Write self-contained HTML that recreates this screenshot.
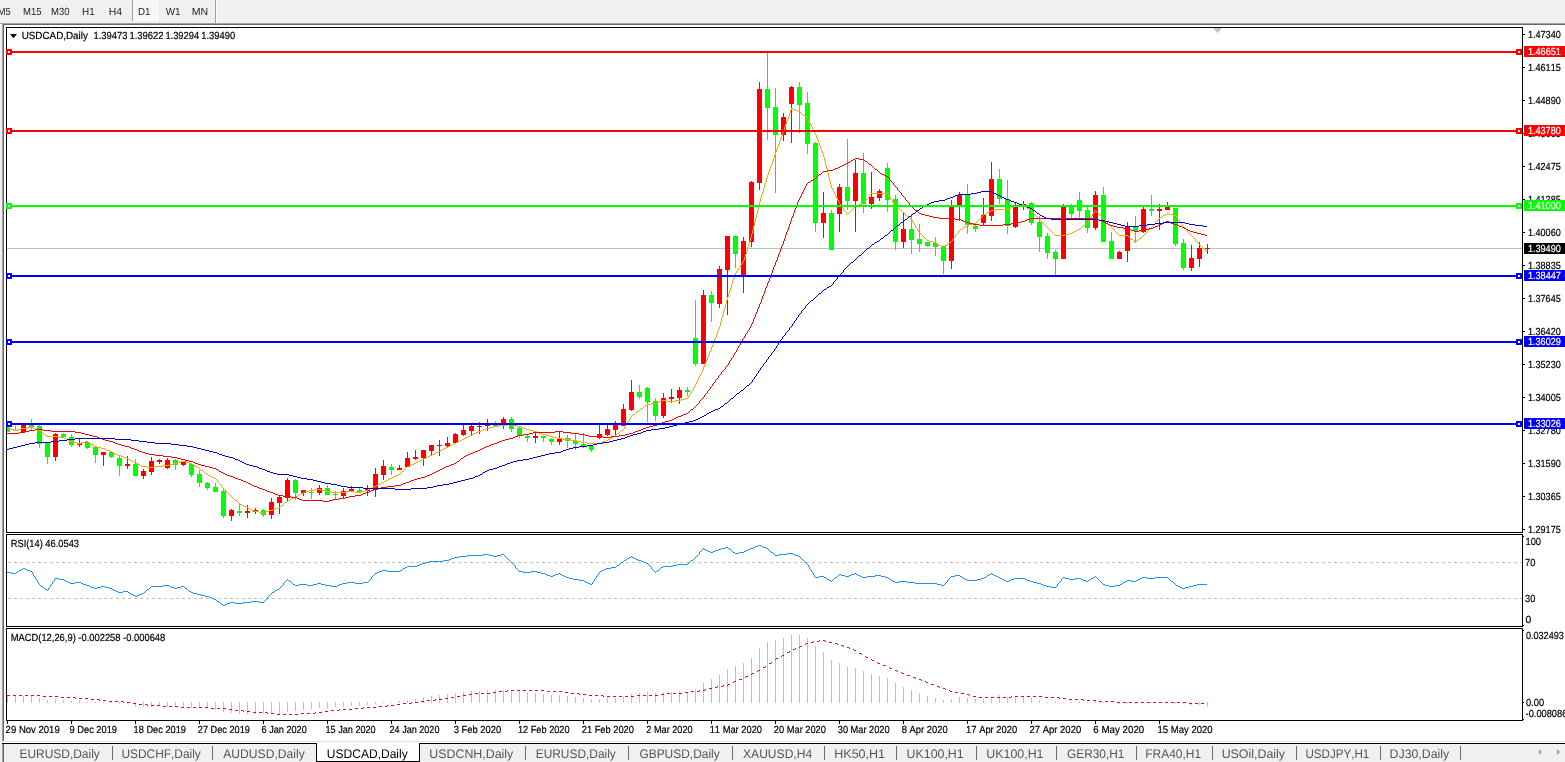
<!DOCTYPE html>
<html><head><meta charset="utf-8"><title>USDCAD,Daily</title>
<style>
html,body{margin:0;padding:0;background:#f0f0f0;overflow:hidden;width:1565px;height:762px}
svg{display:block;position:absolute;left:0;top:0}
text{font-family:'Liberation Sans', sans-serif;text-rendering:geometricPrecision}
</style></head><body>
<svg width="1565" height="762" viewBox="0 0 1565 762"><rect x="0" y="0" width="1565" height="762" fill="#f0f0f0"/>
<defs><pattern id="chk" width="2" height="2" patternUnits="userSpaceOnUse"><rect width="2" height="2" fill="#f0f0f0"/><rect width="1" height="1" fill="#fff"/><rect x="1" y="1" width="1" height="1" fill="#fff"/></pattern><clipPath id="cmain"><rect x="7" y="28" width="1515" height="504"/></clipPath><clipPath id="crsi"><rect x="7" y="535" width="1515" height="91"/></clipPath><clipPath id="cmacd"><rect x="7" y="629" width="1515" height="91"/></clipPath></defs>
<rect x="133" y="0" width="24" height="20" fill="url(#chk)"/>
<rect x="157" y="0" width="1" height="21" fill="#fff"/>
<rect x="133" y="20" width="25" height="1" fill="#fff"/>
<rect x="132" y="0" width="1" height="21" fill="#a0a0a0"/>
<rect x="215" y="0" width="1" height="23" fill="#a0a0a0"/>
<rect x="216" y="0" width="1" height="23" fill="#fff"/>
<g font-family="'Liberation Sans', sans-serif" style="font-kerning:none">
<text x="-2.37" y="15" font-size="10.3" textLength="12.96" lengthAdjust="spacingAndGlyphs" fill="#222" stroke="#222" stroke-width="0">M5</text>
<text x="23.02" y="15" font-size="10.3" textLength="18.58" lengthAdjust="spacingAndGlyphs" fill="#222" stroke="#222" stroke-width="0">M15</text>
<text x="51.12" y="15" font-size="10.3" textLength="18.45" lengthAdjust="spacingAndGlyphs" fill="#222" stroke="#222" stroke-width="0">M30</text>
<text x="81.99" y="15" font-size="10.3" textLength="12.7" lengthAdjust="spacingAndGlyphs" fill="#222" stroke="#222" stroke-width="0">H1</text>
<text x="108.84" y="15" font-size="10.3" textLength="13.36" lengthAdjust="spacingAndGlyphs" fill="#222" stroke="#222" stroke-width="0">H4</text>
<text x="138" y="15" font-size="10.3" textLength="12.48" lengthAdjust="spacingAndGlyphs" fill="#222" stroke="#222" stroke-width="0">D1</text>
<text x="165.66" y="15" font-size="10.3" textLength="14.83" lengthAdjust="spacingAndGlyphs" fill="#222" stroke="#222" stroke-width="0">W1</text>
<text x="191.73" y="15" font-size="10.3" textLength="16.43" lengthAdjust="spacingAndGlyphs" fill="#222" stroke="#222" stroke-width="0">MN</text>
</g>
<rect x="0" y="23" width="1565" height="1" fill="#a0a0a0"/>
<rect x="0" y="24" width="2" height="1" fill="#ffffff"/>
<rect x="3" y="24" width="1562" height="1" fill="#696969"/>
<rect x="2" y="23" width="1" height="718" fill="#a0a0a0"/>
<rect x="3" y="24" width="1" height="717" fill="#696969"/>
<rect x="4" y="25" width="1561" height="716" fill="#ffffff"/>
<rect x="2" y="741" width="1563" height="1" fill="#e3e3e3"/>
<rect x="2" y="742" width="1563" height="1" fill="#ffffff"/>
<rect x="6" y="27" width="1517" height="1" fill="#000"/>
<rect x="6" y="532" width="1517" height="1" fill="#000"/>
<rect x="6" y="27" width="1" height="506" fill="#000"/>
<rect x="1522" y="27" width="1" height="506" fill="#000"/>
<rect x="6" y="534" width="1517" height="1" fill="#000"/>
<rect x="6" y="626" width="1517" height="1" fill="#000"/>
<rect x="6" y="534" width="1" height="93" fill="#000"/>
<rect x="1522" y="534" width="1" height="93" fill="#000"/>
<rect x="6" y="628" width="1517" height="1" fill="#000"/>
<rect x="6" y="720" width="1517" height="1" fill="#000"/>
<rect x="6" y="628" width="1" height="93" fill="#000"/>
<rect x="1522" y="628" width="1" height="93" fill="#000"/>
<g clip-path="url(#cmain)">
<rect x="7" y="248" width="1515" height="1" fill="#c0c0c0"/>
<polygon points="1213,28 1222,28 1217.5,33" fill="#c0c0c0"/>
<rect x="7" y="428" width="1" height="4" fill="#00ff00"/>
<rect x="5" y="428" width="5" height="4" fill="#00ff00"/>
<rect x="15" y="426" width="1" height="5" fill="#00ff00"/>
<rect x="13" y="430" width="5" height="1" fill="#00ff00"/>
<rect x="23" y="423" width="1" height="9" fill="#ff0000"/>
<rect x="21" y="425" width="5" height="7" fill="#ff0000"/>
<rect x="31" y="419" width="1" height="11" fill="#00ff00"/>
<rect x="29" y="425" width="5" height="2" fill="#00ff00"/>
<rect x="39" y="425" width="1" height="23" fill="#00ff00"/>
<rect x="37" y="426" width="5" height="18" fill="#00ff00"/>
<rect x="47" y="443" width="1" height="21" fill="#00ff00"/>
<rect x="45" y="443" width="5" height="14" fill="#00ff00"/>
<rect x="55" y="433" width="1" height="28" fill="#ff0000"/>
<rect x="53" y="434" width="5" height="23" fill="#ff0000"/>
<rect x="63" y="433" width="1" height="5" fill="#00ff00"/>
<rect x="61" y="434" width="5" height="3" fill="#00ff00"/>
<rect x="71" y="434" width="1" height="13" fill="#00ff00"/>
<rect x="69" y="437" width="5" height="8" fill="#00ff00"/>
<rect x="79" y="439" width="1" height="8" fill="#ff0000"/>
<rect x="77" y="443" width="5" height="2" fill="#ff0000"/>
<rect x="87" y="442" width="1" height="7" fill="#00ff00"/>
<rect x="85" y="442" width="5" height="6" fill="#00ff00"/>
<rect x="95" y="447" width="1" height="16" fill="#00ff00"/>
<rect x="93" y="447" width="5" height="8" fill="#00ff00"/>
<rect x="103" y="452" width="1" height="14" fill="#ff0000"/>
<rect x="101" y="452" width="5" height="3" fill="#ff0000"/>
<rect x="111" y="452" width="1" height="6" fill="#00ff00"/>
<rect x="109" y="452" width="5" height="5" fill="#00ff00"/>
<rect x="119" y="456" width="1" height="20" fill="#00ff00"/>
<rect x="117" y="458" width="5" height="8" fill="#00ff00"/>
<rect x="127" y="456" width="1" height="13" fill="#ff0000"/>
<rect x="125" y="464" width="5" height="2" fill="#ff0000"/>
<rect x="135" y="459" width="1" height="17" fill="#00ff00"/>
<rect x="133" y="464" width="5" height="12" fill="#00ff00"/>
<rect x="143" y="469" width="1" height="10" fill="#ff0000"/>
<rect x="141" y="471" width="5" height="5" fill="#ff0000"/>
<rect x="151" y="457" width="1" height="18" fill="#ff0000"/>
<rect x="149" y="461" width="5" height="11" fill="#ff0000"/>
<rect x="159" y="459" width="1" height="5" fill="#ff0000"/>
<rect x="157" y="460" width="5" height="2" fill="#ff0000"/>
<rect x="167" y="458" width="1" height="11" fill="#ff0000"/>
<rect x="165" y="460" width="5" height="8" fill="#ff0000"/>
<rect x="175" y="459" width="1" height="11" fill="#00ff00"/>
<rect x="173" y="460" width="5" height="5" fill="#00ff00"/>
<rect x="183" y="461" width="1" height="5" fill="#ff0000"/>
<rect x="181" y="461" width="5" height="4" fill="#ff0000"/>
<rect x="191" y="463" width="1" height="14" fill="#00ff00"/>
<rect x="189" y="464" width="5" height="11" fill="#00ff00"/>
<rect x="199" y="470" width="1" height="17" fill="#00ff00"/>
<rect x="197" y="474" width="5" height="9" fill="#00ff00"/>
<rect x="207" y="482" width="1" height="8" fill="#00ff00"/>
<rect x="205" y="483" width="5" height="5" fill="#00ff00"/>
<rect x="215" y="483" width="1" height="9" fill="#00ff00"/>
<rect x="213" y="487" width="5" height="5" fill="#00ff00"/>
<rect x="223" y="488" width="1" height="30" fill="#00ff00"/>
<rect x="221" y="491" width="5" height="25" fill="#00ff00"/>
<rect x="231" y="509" width="1" height="12" fill="#ff0000"/>
<rect x="229" y="510" width="5" height="6" fill="#ff0000"/>
<rect x="239" y="504" width="1" height="12" fill="#00ff00"/>
<rect x="237" y="511" width="5" height="2" fill="#00ff00"/>
<rect x="247" y="505" width="1" height="13" fill="#ff0000"/>
<rect x="245" y="511" width="5" height="2" fill="#ff0000"/>
<rect x="255" y="508" width="1" height="6" fill="#ff0000"/>
<rect x="253" y="510" width="5" height="2" fill="#ff0000"/>
<rect x="263" y="509" width="1" height="8" fill="#00ff00"/>
<rect x="261" y="510" width="5" height="5" fill="#00ff00"/>
<rect x="271" y="498" width="1" height="21" fill="#ff0000"/>
<rect x="269" y="502" width="5" height="13" fill="#ff0000"/>
<rect x="279" y="496" width="1" height="18" fill="#ff0000"/>
<rect x="277" y="497" width="5" height="6" fill="#ff0000"/>
<rect x="287" y="478" width="1" height="23" fill="#ff0000"/>
<rect x="285" y="480" width="5" height="18" fill="#ff0000"/>
<rect x="295" y="479" width="1" height="21" fill="#00ff00"/>
<rect x="293" y="480" width="5" height="13" fill="#00ff00"/>
<rect x="303" y="490" width="1" height="6" fill="#ff0000"/>
<rect x="301" y="490" width="5" height="3" fill="#ff0000"/>
<rect x="311" y="488" width="1" height="11" fill="#00ff00"/>
<rect x="309" y="492" width="5" height="1" fill="#00ff00"/>
<rect x="319" y="485" width="1" height="10" fill="#ff0000"/>
<rect x="317" y="488" width="5" height="5" fill="#ff0000"/>
<rect x="327" y="485" width="1" height="10" fill="#00ff00"/>
<rect x="325" y="488" width="5" height="7" fill="#00ff00"/>
<rect x="335" y="491" width="1" height="8" fill="#00ff00"/>
<rect x="333" y="494" width="5" height="1" fill="#00ff00"/>
<rect x="343" y="488" width="1" height="10" fill="#ff0000"/>
<rect x="341" y="491" width="5" height="5" fill="#ff0000"/>
<rect x="351" y="486" width="1" height="5" fill="#ff0000"/>
<rect x="349" y="489" width="5" height="2" fill="#ff0000"/>
<rect x="359" y="488" width="1" height="4" fill="#00ff00"/>
<rect x="357" y="490" width="5" height="2" fill="#00ff00"/>
<rect x="367" y="485" width="1" height="11" fill="#ff0000"/>
<rect x="365" y="489" width="5" height="2" fill="#ff0000"/>
<rect x="375" y="468" width="1" height="29" fill="#ff0000"/>
<rect x="373" y="474" width="5" height="16" fill="#ff0000"/>
<rect x="383" y="460" width="1" height="20" fill="#ff0000"/>
<rect x="381" y="466" width="5" height="9" fill="#ff0000"/>
<rect x="391" y="464" width="1" height="11" fill="#00ff00"/>
<rect x="389" y="467" width="5" height="3" fill="#00ff00"/>
<rect x="399" y="465" width="1" height="5" fill="#ff0000"/>
<rect x="397" y="468" width="5" height="2" fill="#ff0000"/>
<rect x="407" y="452" width="1" height="15" fill="#ff0000"/>
<rect x="405" y="458" width="5" height="9" fill="#ff0000"/>
<rect x="415" y="450" width="1" height="10" fill="#ff0000"/>
<rect x="413" y="457" width="5" height="2" fill="#ff0000"/>
<rect x="423" y="450" width="1" height="16" fill="#ff0000"/>
<rect x="421" y="450" width="5" height="8" fill="#ff0000"/>
<rect x="431" y="445" width="1" height="10" fill="#ff0000"/>
<rect x="429" y="445" width="5" height="6" fill="#ff0000"/>
<rect x="439" y="440" width="1" height="16" fill="#ff0000"/>
<rect x="437" y="445" width="5" height="1" fill="#ff0000"/>
<rect x="447" y="437" width="1" height="11" fill="#ff0000"/>
<rect x="445" y="443" width="5" height="3" fill="#ff0000"/>
<rect x="455" y="433" width="1" height="11" fill="#ff0000"/>
<rect x="453" y="434" width="5" height="9" fill="#ff0000"/>
<rect x="463" y="424" width="1" height="12" fill="#ff0000"/>
<rect x="461" y="430" width="5" height="5" fill="#ff0000"/>
<rect x="471" y="424" width="1" height="12" fill="#ff0000"/>
<rect x="469" y="426" width="5" height="5" fill="#ff0000"/>
<rect x="479" y="422" width="1" height="12" fill="#ff0000"/>
<rect x="477" y="426" width="5" height="1" fill="#ff0000"/>
<rect x="487" y="419" width="1" height="12" fill="#ff0000"/>
<rect x="485" y="423" width="5" height="3" fill="#ff0000"/>
<rect x="495" y="421" width="1" height="5" fill="#00ff00"/>
<rect x="493" y="424" width="5" height="2" fill="#00ff00"/>
<rect x="503" y="417" width="1" height="12" fill="#ff0000"/>
<rect x="501" y="419" width="5" height="4" fill="#ff0000"/>
<rect x="511" y="417" width="1" height="15" fill="#00ff00"/>
<rect x="509" y="419" width="5" height="10" fill="#00ff00"/>
<rect x="519" y="426" width="1" height="12" fill="#00ff00"/>
<rect x="517" y="428" width="5" height="8" fill="#00ff00"/>
<rect x="527" y="434" width="1" height="8" fill="#00ff00"/>
<rect x="525" y="436" width="5" height="2" fill="#00ff00"/>
<rect x="535" y="432" width="1" height="11" fill="#ff0000"/>
<rect x="533" y="436" width="5" height="2" fill="#ff0000"/>
<rect x="543" y="436" width="1" height="6" fill="#00ff00"/>
<rect x="541" y="436" width="5" height="2" fill="#00ff00"/>
<rect x="551" y="438" width="1" height="7" fill="#00ff00"/>
<rect x="549" y="439" width="5" height="3" fill="#00ff00"/>
<rect x="559" y="431" width="1" height="14" fill="#ff0000"/>
<rect x="557" y="438" width="5" height="4" fill="#ff0000"/>
<rect x="567" y="435" width="1" height="13" fill="#00ff00"/>
<rect x="565" y="438" width="5" height="3" fill="#00ff00"/>
<rect x="575" y="434" width="1" height="16" fill="#00ff00"/>
<rect x="573" y="441" width="5" height="3" fill="#00ff00"/>
<rect x="583" y="433" width="1" height="15" fill="#00ff00"/>
<rect x="581" y="444" width="5" height="2" fill="#00ff00"/>
<rect x="591" y="445" width="1" height="7" fill="#00ff00"/>
<rect x="589" y="446" width="5" height="4" fill="#00ff00"/>
<rect x="599" y="425" width="1" height="14" fill="#ff0000"/>
<rect x="597" y="434" width="5" height="4" fill="#ff0000"/>
<rect x="607" y="425" width="1" height="11" fill="#ff0000"/>
<rect x="605" y="429" width="5" height="6" fill="#ff0000"/>
<rect x="615" y="421" width="1" height="14" fill="#ff0000"/>
<rect x="613" y="423" width="5" height="7" fill="#ff0000"/>
<rect x="623" y="404" width="1" height="22" fill="#ff0000"/>
<rect x="621" y="409" width="5" height="17" fill="#ff0000"/>
<rect x="631" y="380" width="1" height="31" fill="#ff0000"/>
<rect x="629" y="392" width="5" height="18" fill="#ff0000"/>
<rect x="639" y="385" width="1" height="14" fill="#00ff00"/>
<rect x="637" y="392" width="5" height="5" fill="#00ff00"/>
<rect x="647" y="387" width="1" height="35" fill="#00ff00"/>
<rect x="645" y="388" width="5" height="14" fill="#00ff00"/>
<rect x="655" y="398" width="1" height="23" fill="#00ff00"/>
<rect x="653" y="401" width="5" height="15" fill="#00ff00"/>
<rect x="663" y="393" width="1" height="25" fill="#ff0000"/>
<rect x="661" y="398" width="5" height="18" fill="#ff0000"/>
<rect x="671" y="389" width="1" height="14" fill="#ff0000"/>
<rect x="669" y="397" width="5" height="2" fill="#ff0000"/>
<rect x="679" y="387" width="1" height="17" fill="#ff0000"/>
<rect x="677" y="390" width="5" height="8" fill="#ff0000"/>
<rect x="687" y="387" width="1" height="9" fill="#00ff00"/>
<rect x="685" y="390" width="5" height="2" fill="#00ff00"/>
<rect x="695" y="300" width="1" height="66" fill="#00ff00"/>
<rect x="693" y="338" width="5" height="26" fill="#00ff00"/>
<rect x="703" y="290" width="1" height="74" fill="#ff0000"/>
<rect x="701" y="295" width="5" height="69" fill="#ff0000"/>
<rect x="711" y="291" width="1" height="31" fill="#00ff00"/>
<rect x="709" y="295" width="5" height="8" fill="#00ff00"/>
<rect x="719" y="266" width="1" height="42" fill="#ff0000"/>
<rect x="717" y="269" width="5" height="35" fill="#ff0000"/>
<rect x="727" y="236" width="1" height="79" fill="#ff0000"/>
<rect x="725" y="236" width="5" height="34" fill="#ff0000"/>
<rect x="735" y="235" width="1" height="33" fill="#00ff00"/>
<rect x="733" y="236" width="5" height="18" fill="#00ff00"/>
<rect x="743" y="237" width="1" height="56" fill="#ff0000"/>
<rect x="741" y="241" width="5" height="34" fill="#ff0000"/>
<rect x="751" y="181" width="1" height="66" fill="#ff0000"/>
<rect x="749" y="182" width="5" height="60" fill="#ff0000"/>
<rect x="759" y="82" width="1" height="108" fill="#ff0000"/>
<rect x="757" y="89" width="5" height="94" fill="#ff0000"/>
<rect x="767" y="53" width="1" height="87" fill="#00ff00"/>
<rect x="765" y="89" width="5" height="19" fill="#00ff00"/>
<rect x="775" y="88" width="1" height="105" fill="#00ff00"/>
<rect x="773" y="107" width="5" height="28" fill="#00ff00"/>
<rect x="783" y="113" width="1" height="28" fill="#ff0000"/>
<rect x="781" y="117" width="5" height="18" fill="#ff0000"/>
<rect x="791" y="86" width="1" height="57" fill="#ff0000"/>
<rect x="789" y="87" width="5" height="17" fill="#ff0000"/>
<rect x="799" y="82" width="1" height="51" fill="#00ff00"/>
<rect x="797" y="87" width="5" height="18" fill="#00ff00"/>
<rect x="807" y="92" width="1" height="62" fill="#00ff00"/>
<rect x="805" y="103" width="5" height="41" fill="#00ff00"/>
<rect x="815" y="142" width="1" height="90" fill="#00ff00"/>
<rect x="813" y="143" width="5" height="80" fill="#00ff00"/>
<rect x="823" y="192" width="1" height="46" fill="#ff0000"/>
<rect x="821" y="213" width="5" height="10" fill="#ff0000"/>
<rect x="831" y="210" width="1" height="40" fill="#00ff00"/>
<rect x="829" y="213" width="5" height="37" fill="#00ff00"/>
<rect x="839" y="184" width="1" height="48" fill="#ff0000"/>
<rect x="837" y="187" width="5" height="27" fill="#ff0000"/>
<rect x="847" y="139" width="1" height="71" fill="#00ff00"/>
<rect x="845" y="187" width="5" height="14" fill="#00ff00"/>
<rect x="855" y="160" width="1" height="72" fill="#ff0000"/>
<rect x="853" y="173" width="5" height="28" fill="#ff0000"/>
<rect x="863" y="153" width="1" height="60" fill="#00ff00"/>
<rect x="861" y="173" width="5" height="31" fill="#00ff00"/>
<rect x="871" y="172" width="1" height="37" fill="#ff0000"/>
<rect x="869" y="197" width="5" height="7" fill="#ff0000"/>
<rect x="879" y="189" width="1" height="12" fill="#ff0000"/>
<rect x="877" y="191" width="5" height="7" fill="#ff0000"/>
<rect x="887" y="163" width="1" height="49" fill="#00ff00"/>
<rect x="885" y="168" width="5" height="32" fill="#00ff00"/>
<rect x="895" y="195" width="1" height="55" fill="#00ff00"/>
<rect x="893" y="199" width="5" height="43" fill="#00ff00"/>
<rect x="903" y="213" width="1" height="35" fill="#ff0000"/>
<rect x="901" y="229" width="5" height="13" fill="#ff0000"/>
<rect x="911" y="214" width="1" height="40" fill="#00ff00"/>
<rect x="909" y="229" width="5" height="11" fill="#00ff00"/>
<rect x="919" y="224" width="1" height="28" fill="#00ff00"/>
<rect x="917" y="239" width="5" height="5" fill="#00ff00"/>
<rect x="927" y="242" width="1" height="5" fill="#00ff00"/>
<rect x="925" y="242" width="5" height="4" fill="#00ff00"/>
<rect x="935" y="237" width="1" height="19" fill="#00ff00"/>
<rect x="933" y="243" width="5" height="4" fill="#00ff00"/>
<rect x="943" y="246" width="1" height="28" fill="#00ff00"/>
<rect x="941" y="246" width="5" height="15" fill="#00ff00"/>
<rect x="951" y="200" width="1" height="69" fill="#ff0000"/>
<rect x="949" y="207" width="5" height="54" fill="#ff0000"/>
<rect x="959" y="192" width="1" height="29" fill="#ff0000"/>
<rect x="957" y="195" width="5" height="10" fill="#ff0000"/>
<rect x="967" y="184" width="1" height="50" fill="#00ff00"/>
<rect x="965" y="195" width="5" height="30" fill="#00ff00"/>
<rect x="975" y="223" width="1" height="9" fill="#00ff00"/>
<rect x="973" y="226" width="5" height="3" fill="#00ff00"/>
<rect x="983" y="198" width="1" height="28" fill="#ff0000"/>
<rect x="981" y="215" width="5" height="8" fill="#ff0000"/>
<rect x="991" y="162" width="1" height="59" fill="#ff0000"/>
<rect x="989" y="179" width="5" height="37" fill="#ff0000"/>
<rect x="999" y="169" width="1" height="35" fill="#00ff00"/>
<rect x="997" y="179" width="5" height="20" fill="#00ff00"/>
<rect x="1007" y="180" width="1" height="54" fill="#00ff00"/>
<rect x="1005" y="199" width="5" height="27" fill="#00ff00"/>
<rect x="1015" y="203" width="1" height="25" fill="#ff0000"/>
<rect x="1013" y="207" width="5" height="20" fill="#ff0000"/>
<rect x="1023" y="201" width="1" height="9" fill="#ff0000"/>
<rect x="1021" y="204" width="5" height="3" fill="#ff0000"/>
<rect x="1031" y="202" width="1" height="23" fill="#00ff00"/>
<rect x="1029" y="203" width="5" height="20" fill="#00ff00"/>
<rect x="1039" y="216" width="1" height="36" fill="#00ff00"/>
<rect x="1037" y="222" width="5" height="15" fill="#00ff00"/>
<rect x="1047" y="233" width="1" height="26" fill="#00ff00"/>
<rect x="1045" y="236" width="5" height="17" fill="#00ff00"/>
<rect x="1055" y="250" width="1" height="25" fill="#00ff00"/>
<rect x="1053" y="252" width="5" height="7" fill="#00ff00"/>
<rect x="1063" y="204" width="1" height="55" fill="#ff0000"/>
<rect x="1061" y="207" width="5" height="52" fill="#ff0000"/>
<rect x="1071" y="204" width="1" height="14" fill="#00ff00"/>
<rect x="1069" y="206" width="5" height="8" fill="#00ff00"/>
<rect x="1079" y="192" width="1" height="28" fill="#00ff00"/>
<rect x="1077" y="200" width="5" height="11" fill="#00ff00"/>
<rect x="1087" y="207" width="1" height="26" fill="#00ff00"/>
<rect x="1085" y="210" width="5" height="18" fill="#00ff00"/>
<rect x="1095" y="191" width="1" height="39" fill="#ff0000"/>
<rect x="1093" y="195" width="5" height="33" fill="#ff0000"/>
<rect x="1103" y="187" width="1" height="55" fill="#00ff00"/>
<rect x="1101" y="195" width="5" height="47" fill="#00ff00"/>
<rect x="1111" y="232" width="1" height="27" fill="#00ff00"/>
<rect x="1109" y="241" width="5" height="18" fill="#00ff00"/>
<rect x="1119" y="251" width="1" height="8" fill="#ff0000"/>
<rect x="1117" y="252" width="5" height="7" fill="#ff0000"/>
<rect x="1127" y="222" width="1" height="40" fill="#ff0000"/>
<rect x="1125" y="226" width="5" height="25" fill="#ff0000"/>
<rect x="1135" y="216" width="1" height="26" fill="#00ff00"/>
<rect x="1133" y="227" width="5" height="4" fill="#00ff00"/>
<rect x="1143" y="207" width="1" height="26" fill="#ff0000"/>
<rect x="1141" y="209" width="5" height="23" fill="#ff0000"/>
<rect x="1151" y="195" width="1" height="21" fill="#00ff00"/>
<rect x="1149" y="209" width="5" height="2" fill="#00ff00"/>
<rect x="1159" y="204" width="1" height="26" fill="#ff0000"/>
<rect x="1157" y="209" width="5" height="2" fill="#ff0000"/>
<rect x="1167" y="202" width="1" height="8" fill="#ff0000"/>
<rect x="1165" y="207" width="5" height="3" fill="#ff0000"/>
<rect x="1175" y="208" width="1" height="38" fill="#00ff00"/>
<rect x="1173" y="208" width="5" height="36" fill="#00ff00"/>
<rect x="1183" y="239" width="1" height="31" fill="#00ff00"/>
<rect x="1181" y="243" width="5" height="25" fill="#00ff00"/>
<rect x="1191" y="245" width="1" height="26" fill="#ff0000"/>
<rect x="1189" y="258" width="5" height="10" fill="#ff0000"/>
<rect x="1199" y="242" width="1" height="25" fill="#ff0000"/>
<rect x="1197" y="248" width="5" height="11" fill="#ff0000"/>
<rect x="1207" y="244" width="1" height="10" fill="#ff0000"/>
<rect x="1205" y="248" width="5" height="1" fill="#ff0000"/>
<path d="M791 108h2v1h-2zM791 109h1v1h-1zM793 109h2v1h-2zM790 110h1v1h-1zM795 110h3v1h-3zM790 111h1v1h-1zM798 111h2v1h-2zM790 112h1v1h-1zM800 112h1v1h-1zM789 113h1v1h-1zM801 113h1v1h-1zM789 114h1v1h-1zM802 114h1v1h-1zM789 115h1v1h-1zM803 115h2v1h-2zM788 116h1v1h-1zM805 116h1v1h-1zM788 117h1v1h-1zM806 117h1v1h-1zM788 118h1v1h-1zM807 118h1v1h-1zM787 119h1v1h-1zM808 119h1v1h-1zM787 120h1v1h-1zM808 120h1v1h-1zM786 121h1v1h-1zM809 121h1v1h-1zM786 122h1v1h-1zM809 122h1v1h-1zM786 123h1v1h-1zM810 123h1v1h-1zM785 124h1v1h-1zM810 124h1v1h-1zM785 125h1v1h-1zM811 125h1v1h-1zM785 126h1v1h-1zM811 126h1v1h-1zM784 127h1v1h-1zM812 127h1v1h-1zM784 128h1v1h-1zM812 128h1v1h-1zM784 129h1v1h-1zM813 129h1v1h-1zM783 130h1v1h-1zM813 130h1v1h-1zM783 131h1v1h-1zM814 131h1v1h-1zM783 132h1v1h-1zM814 132h1v1h-1zM782 133h1v1h-1zM815 133h1v1h-1zM782 134h1v1h-1zM815 134h1v1h-1zM782 135h1v1h-1zM816 135h1v1h-1zM781 136h1v1h-1zM816 136h1v1h-1zM781 137h1v1h-1zM816 137h1v1h-1zM780 138h1v1h-1zM817 138h1v1h-1zM780 139h1v1h-1zM817 139h1v1h-1zM780 140h1v1h-1zM818 140h1v1h-1zM779 141h1v1h-1zM818 141h1v1h-1zM779 142h1v1h-1zM818 142h1v1h-1zM779 143h1v1h-1zM819 143h1v1h-1zM778 144h1v1h-1zM819 144h1v1h-1zM778 145h1v1h-1zM819 145h1v1h-1zM778 146h1v1h-1zM820 146h1v1h-1zM777 147h1v1h-1zM820 147h1v1h-1zM777 148h1v1h-1zM820 148h1v1h-1zM776 149h1v1h-1zM821 149h1v1h-1zM776 150h1v1h-1zM821 150h1v1h-1zM776 151h1v1h-1zM822 151h1v1h-1zM775 152h1v1h-1zM822 152h1v1h-1zM775 153h1v1h-1zM822 153h1v1h-1zM775 154h1v1h-1zM823 154h1v1h-1zM774 155h1v1h-1zM823 155h1v1h-1zM774 156h1v1h-1zM823 156h1v1h-1zM774 157h1v1h-1zM824 157h1v1h-1zM773 158h1v1h-1zM824 158h1v1h-1zM773 159h1v1h-1zM824 159h1v1h-1zM773 160h1v1h-1zM824 160h1v1h-1zM772 161h1v1h-1zM825 161h1v1h-1zM772 162h1v1h-1zM825 162h1v1h-1zM772 163h1v1h-1zM825 163h1v1h-1zM771 164h1v1h-1zM825 164h1v1h-1zM771 165h1v1h-1zM826 165h1v1h-1zM770 166h1v1h-1zM826 166h1v1h-1zM770 167h1v1h-1zM826 167h1v1h-1zM770 168h1v1h-1zM826 168h1v1h-1zM769 169h1v1h-1zM827 169h1v1h-1zM769 170h1v1h-1zM827 170h1v1h-1zM769 171h1v1h-1zM827 171h1v1h-1zM768 172h1v1h-1zM827 172h1v1h-1zM768 173h1v1h-1zM828 173h1v1h-1zM768 174h1v1h-1zM828 174h1v1h-1zM767 175h1v1h-1zM828 175h1v1h-1zM767 176h1v1h-1zM828 176h1v1h-1zM767 177h1v1h-1zM829 177h1v1h-1zM766 178h1v1h-1zM829 178h1v1h-1zM766 179h1v1h-1zM829 179h1v1h-1zM766 180h1v1h-1zM829 180h1v1h-1zM766 181h1v1h-1zM830 181h1v1h-1zM765 182h1v1h-1zM830 182h1v1h-1zM765 183h1v1h-1zM830 183h1v1h-1zM765 184h1v1h-1zM830 184h1v1h-1zM764 185h1v1h-1zM831 185h1v1h-1zM764 186h1v1h-1zM831 186h1v1h-1zM764 187h1v1h-1zM831 187h1v1h-1zM763 188h1v1h-1zM832 188h1v1h-1zM763 189h1v1h-1zM832 189h1v1h-1zM763 190h1v1h-1zM833 190h1v1h-1zM763 191h1v1h-1zM833 191h1v1h-1zM762 192h1v1h-1zM834 192h1v1h-1zM762 193h1v1h-1zM834 193h1v1h-1zM871 193h17v1h-17zM762 194h1v1h-1zM835 194h1v1h-1zM870 194h1v1h-1zM888 194h1v1h-1zM761 195h1v1h-1zM835 195h1v1h-1zM869 195h1v1h-1zM888 195h1v1h-1zM761 196h1v1h-1zM836 196h1v1h-1zM869 196h1v1h-1zM889 196h1v1h-1zM761 197h1v1h-1zM836 197h1v1h-1zM868 197h1v1h-1zM890 197h1v1h-1zM760 198h1v1h-1zM837 198h1v1h-1zM867 198h1v1h-1zM890 198h1v1h-1zM760 199h1v1h-1zM837 199h1v1h-1zM866 199h1v1h-1zM891 199h1v1h-1zM760 200h1v1h-1zM838 200h1v1h-1zM865 200h1v1h-1zM892 200h1v1h-1zM760 201h1v1h-1zM838 201h1v1h-1zM865 201h1v1h-1zM892 201h1v1h-1zM759 202h1v1h-1zM839 202h1v1h-1zM864 202h1v1h-1zM893 202h1v1h-1zM759 203h1v1h-1zM839 203h1v1h-1zM862 203h2v1h-2zM894 203h1v1h-1zM759 204h1v1h-1zM840 204h1v1h-1zM859 204h3v1h-3zM894 204h1v1h-1zM1021 204h3v1h-3zM759 205h1v1h-1zM840 205h1v1h-1zM857 205h2v1h-2zM895 205h1v1h-1zM1017 205h4v1h-4zM1024 205h1v1h-1zM758 206h1v1h-1zM841 206h1v1h-1zM855 206h2v1h-2zM896 206h1v1h-1zM1014 206h3v1h-3zM1025 206h1v1h-1zM758 207h1v1h-1zM842 207h1v1h-1zM854 207h1v1h-1zM897 207h1v1h-1zM1011 207h3v1h-3zM1026 207h1v1h-1zM758 208h1v1h-1zM843 208h1v1h-1zM853 208h1v1h-1zM898 208h1v1h-1zM1009 208h2v1h-2zM1027 208h2v1h-2zM758 209h1v1h-1zM843 209h1v1h-1zM852 209h1v1h-1zM899 209h2v1h-2zM995 209h14v1h-14zM1029 209h1v1h-1zM757 210h1v1h-1zM844 210h1v1h-1zM851 210h1v1h-1zM901 210h1v1h-1zM991 210h4v1h-4zM1030 210h1v1h-1zM1095 210h1v1h-1zM757 211h1v1h-1zM845 211h1v1h-1zM850 211h1v1h-1zM902 211h1v1h-1zM989 211h2v1h-2zM1031 211h1v1h-1zM1094 211h1v1h-1zM1096 211h1v1h-1zM757 212h1v1h-1zM846 212h1v1h-1zM849 212h1v1h-1zM903 212h1v1h-1zM987 212h2v1h-2zM1032 212h1v1h-1zM1094 212h1v1h-1zM1097 212h1v1h-1zM757 213h1v1h-1zM846 213h1v1h-1zM848 213h1v1h-1zM904 213h1v1h-1zM986 213h1v1h-1zM1033 213h1v1h-1zM1093 213h1v1h-1zM1098 213h1v1h-1zM1167 213h2v1h-2zM756 214h1v1h-1zM847 214h1v1h-1zM905 214h1v1h-1zM984 214h2v1h-2zM1034 214h1v1h-1zM1092 214h1v1h-1zM1099 214h1v1h-1zM1165 214h2v1h-2zM1169 214h4v1h-4zM756 215h1v1h-1zM906 215h1v1h-1zM983 215h1v1h-1zM1035 215h1v1h-1zM1092 215h1v1h-1zM1100 215h1v1h-1zM1163 215h2v1h-2zM1173 215h3v1h-3zM756 216h1v1h-1zM907 216h2v1h-2zM982 216h1v1h-1zM1036 216h1v1h-1zM1091 216h1v1h-1zM1101 216h1v1h-1zM1162 216h1v1h-1zM1176 216h1v1h-1zM756 217h1v1h-1zM909 217h1v1h-1zM981 217h1v1h-1zM1037 217h1v1h-1zM1090 217h1v1h-1zM1102 217h1v1h-1zM1160 217h2v1h-2zM1176 217h1v1h-1zM755 218h1v1h-1zM910 218h1v1h-1zM980 218h1v1h-1zM1038 218h1v1h-1zM1090 218h1v1h-1zM1103 218h1v1h-1zM1159 218h1v1h-1zM1177 218h1v1h-1zM755 219h1v1h-1zM911 219h1v1h-1zM979 219h1v1h-1zM1039 219h1v1h-1zM1089 219h1v1h-1zM1104 219h1v1h-1zM1158 219h1v1h-1zM1178 219h1v1h-1zM755 220h1v1h-1zM912 220h1v1h-1zM978 220h1v1h-1zM1040 220h1v1h-1zM1088 220h1v1h-1zM1105 220h1v1h-1zM1157 220h1v1h-1zM1179 220h1v1h-1zM755 221h1v1h-1zM912 221h1v1h-1zM977 221h1v1h-1zM1041 221h1v1h-1zM1088 221h1v1h-1zM1106 221h1v1h-1zM1156 221h1v1h-1zM1179 221h1v1h-1zM754 222h1v1h-1zM913 222h1v1h-1zM976 222h1v1h-1zM1042 222h1v1h-1zM1087 222h1v1h-1zM1107 222h1v1h-1zM1155 222h1v1h-1zM1180 222h1v1h-1zM754 223h1v1h-1zM913 223h1v1h-1zM973 223h3v1h-3zM1043 223h1v1h-1zM1086 223h1v1h-1zM1107 223h1v1h-1zM1155 223h1v1h-1zM1181 223h1v1h-1zM754 224h1v1h-1zM914 224h1v1h-1zM969 224h4v1h-4zM1044 224h1v1h-1zM1085 224h1v1h-1zM1108 224h1v1h-1zM1154 224h1v1h-1zM1182 224h1v1h-1zM754 225h1v1h-1zM915 225h1v1h-1zM967 225h2v1h-2zM1045 225h1v1h-1zM1083 225h2v1h-2zM1109 225h1v1h-1zM1153 225h1v1h-1zM1182 225h1v1h-1zM753 226h1v1h-1zM915 226h1v1h-1zM965 226h2v1h-2zM1046 226h1v1h-1zM1082 226h1v1h-1zM1110 226h1v1h-1zM1152 226h1v1h-1zM1183 226h1v1h-1zM753 227h1v1h-1zM916 227h1v1h-1zM963 227h2v1h-2zM1047 227h1v1h-1zM1081 227h1v1h-1zM1111 227h1v1h-1zM1151 227h1v1h-1zM1184 227h1v1h-1zM753 228h1v1h-1zM917 228h1v1h-1zM962 228h1v1h-1zM1048 228h1v1h-1zM1080 228h1v1h-1zM1112 228h1v1h-1zM1150 228h1v1h-1zM1185 228h1v1h-1zM753 229h1v1h-1zM917 229h1v1h-1zM960 229h2v1h-2zM1049 229h1v1h-1zM1078 229h2v1h-2zM1113 229h1v1h-1zM1149 229h1v1h-1zM1186 229h1v1h-1zM752 230h1v1h-1zM918 230h1v1h-1zM959 230h1v1h-1zM1050 230h1v1h-1zM1076 230h2v1h-2zM1114 230h1v1h-1zM1148 230h1v1h-1zM1187 230h1v1h-1zM752 231h1v1h-1zM918 231h1v1h-1zM958 231h1v1h-1zM1051 231h1v1h-1zM1074 231h2v1h-2zM1115 231h1v1h-1zM1147 231h1v1h-1zM1187 231h1v1h-1zM752 232h1v1h-1zM919 232h1v1h-1zM958 232h1v1h-1zM1052 232h1v1h-1zM1072 232h2v1h-2zM1116 232h1v1h-1zM1146 232h1v1h-1zM1188 232h1v1h-1zM752 233h1v1h-1zM920 233h1v1h-1zM957 233h1v1h-1zM1053 233h1v1h-1zM1069 233h3v1h-3zM1117 233h1v1h-1zM1145 233h1v1h-1zM1189 233h1v1h-1zM751 234h1v1h-1zM921 234h1v1h-1zM956 234h1v1h-1zM1054 234h1v1h-1zM1065 234h4v1h-4zM1118 234h1v1h-1zM1144 234h1v1h-1zM1190 234h1v1h-1zM751 235h1v1h-1zM922 235h1v1h-1zM955 235h1v1h-1zM1055 235h10v1h-10zM1119 235h9v1h-9zM1143 235h1v1h-1zM1191 235h1v1h-1zM751 236h1v1h-1zM923 236h1v1h-1zM955 236h1v1h-1zM1128 236h1v1h-1zM1142 236h1v1h-1zM1192 236h1v1h-1zM751 237h1v1h-1zM924 237h1v1h-1zM954 237h1v1h-1zM1129 237h1v1h-1zM1141 237h1v1h-1zM1193 237h1v1h-1zM750 238h1v1h-1zM925 238h1v1h-1zM953 238h1v1h-1zM1130 238h1v1h-1zM1139 238h2v1h-2zM1194 238h1v1h-1zM750 239h1v1h-1zM926 239h1v1h-1zM952 239h1v1h-1zM1131 239h2v1h-2zM1138 239h1v1h-1zM1195 239h1v1h-1zM750 240h1v1h-1zM927 240h2v1h-2zM952 240h1v1h-1zM1133 240h1v1h-1zM1137 240h1v1h-1zM1195 240h1v1h-1zM749 241h1v1h-1zM929 241h4v1h-4zM951 241h1v1h-1zM1134 241h1v1h-1zM1136 241h1v1h-1zM1196 241h1v1h-1zM749 242h1v1h-1zM933 242h3v1h-3zM949 242h2v1h-2zM1135 242h1v1h-1zM1197 242h1v1h-1zM749 243h1v1h-1zM936 243h2v1h-2zM948 243h1v1h-1zM1198 243h1v1h-1zM748 244h1v1h-1zM938 244h1v1h-1zM947 244h1v1h-1zM1199 244h1v1h-1zM748 245h1v1h-1zM939 245h2v1h-2zM945 245h2v1h-2zM1200 245h1v1h-1zM748 246h1v1h-1zM941 246h2v1h-2zM944 246h1v1h-1zM1201 246h1v1h-1zM747 247h1v1h-1zM943 247h1v1h-1zM1202 247h1v1h-1zM747 248h1v1h-1zM1203 248h1v1h-1zM747 249h1v1h-1zM1204 249h1v1h-1zM747 250h1v1h-1zM1205 250h1v1h-1zM746 251h1v1h-1zM1206 251h1v1h-1zM746 252h1v1h-1zM746 253h1v1h-1zM745 254h1v1h-1zM745 255h1v1h-1zM745 256h1v1h-1zM744 257h1v1h-1zM744 258h1v1h-1zM744 259h1v1h-1zM743 260h1v1h-1zM743 261h1v1h-1zM742 262h1v1h-1zM742 263h1v1h-1zM741 264h1v1h-1zM740 265h1v1h-1zM740 266h1v1h-1zM739 267h1v1h-1zM738 268h1v1h-1zM738 269h1v1h-1zM737 270h1v1h-1zM736 271h1v1h-1zM736 272h1v1h-1zM735 273h1v1h-1zM735 274h1v1h-1zM734 275h1v1h-1zM734 276h1v1h-1zM734 277h1v1h-1zM733 278h1v1h-1zM733 279h1v1h-1zM733 280h1v1h-1zM732 281h1v1h-1zM732 282h1v1h-1zM732 283h1v1h-1zM731 284h1v1h-1zM731 285h1v1h-1zM731 286h1v1h-1zM731 287h1v1h-1zM730 288h1v1h-1zM730 289h1v1h-1zM730 290h1v1h-1zM729 291h1v1h-1zM729 292h1v1h-1zM729 293h1v1h-1zM728 294h1v1h-1zM728 295h1v1h-1zM728 296h1v1h-1zM727 297h1v1h-1zM727 298h1v1h-1zM727 299h1v1h-1zM726 300h1v1h-1zM726 301h1v1h-1zM726 302h1v1h-1zM726 303h1v1h-1zM725 304h1v1h-1zM725 305h1v1h-1zM725 306h1v1h-1zM725 307h1v1h-1zM724 308h1v1h-1zM724 309h1v1h-1zM724 310h1v1h-1zM723 311h1v1h-1zM723 312h1v1h-1zM723 313h1v1h-1zM723 314h1v1h-1zM722 315h1v1h-1zM722 316h1v1h-1zM722 317h1v1h-1zM721 318h1v1h-1zM721 319h1v1h-1zM721 320h1v1h-1zM721 321h1v1h-1zM720 322h1v1h-1zM720 323h1v1h-1zM720 324h1v1h-1zM720 325h1v1h-1zM719 326h1v1h-1zM719 327h1v1h-1zM719 328h1v1h-1zM718 329h1v1h-1zM718 330h1v1h-1zM717 331h1v1h-1zM717 332h1v1h-1zM717 333h1v1h-1zM716 334h1v1h-1zM716 335h1v1h-1zM716 336h1v1h-1zM715 337h1v1h-1zM715 338h1v1h-1zM714 339h1v1h-1zM714 340h1v1h-1zM714 341h1v1h-1zM713 342h1v1h-1zM713 343h1v1h-1zM713 344h1v1h-1zM712 345h1v1h-1zM712 346h1v1h-1zM711 347h1v1h-1zM711 348h1v1h-1zM711 349h1v1h-1zM710 350h1v1h-1zM710 351h1v1h-1zM709 352h1v1h-1zM709 353h1v1h-1zM709 354h1v1h-1zM708 355h1v1h-1zM708 356h1v1h-1zM707 357h1v1h-1zM707 358h1v1h-1zM707 359h1v1h-1zM706 360h1v1h-1zM706 361h1v1h-1zM705 362h1v1h-1zM705 363h1v1h-1zM705 364h1v1h-1zM704 365h1v1h-1zM704 366h1v1h-1zM703 367h1v1h-1zM703 368h1v1h-1zM703 369h1v1h-1zM702 370h1v1h-1zM702 371h1v1h-1zM701 372h1v1h-1zM701 373h1v1h-1zM700 374h1v1h-1zM700 375h1v1h-1zM699 376h1v1h-1zM699 377h1v1h-1zM698 378h1v1h-1zM698 379h1v1h-1zM697 380h1v1h-1zM697 381h1v1h-1zM696 382h1v1h-1zM696 383h1v1h-1zM695 384h1v1h-1zM695 385h1v1h-1zM694 386h1v1h-1zM694 387h1v1h-1zM693 388h1v1h-1zM693 389h1v1h-1zM692 390h1v1h-1zM691 391h1v1h-1zM691 392h1v1h-1zM690 393h1v1h-1zM689 394h1v1h-1zM689 395h1v1h-1zM688 396h1v1h-1zM688 397h1v1h-1zM685 398h3v1h-3zM681 399h4v1h-4zM662 400h5v1h-5zM675 400h6v1h-6zM659 401h3v1h-3zM667 401h8v1h-8zM657 402h2v1h-2zM651 403h6v1h-6zM647 404h4v1h-4zM645 405h2v1h-2zM644 406h1v1h-1zM643 407h1v1h-1zM641 408h2v1h-2zM640 409h1v1h-1zM639 410h1v1h-1zM637 411h2v1h-2zM636 412h1v1h-1zM635 413h1v1h-1zM633 414h2v1h-2zM632 415h1v1h-1zM631 416h1v1h-1zM630 417h1v1h-1zM630 418h1v1h-1zM629 419h1v1h-1zM629 420h1v1h-1zM628 421h1v1h-1zM627 422h1v1h-1zM627 423h1v1h-1zM507 424h6v1h-6zM626 424h1v1h-1zM499 425h8v1h-8zM513 425h4v1h-4zM625 425h1v1h-1zM493 426h6v1h-6zM517 426h4v1h-4zM625 426h1v1h-1zM7 427h2v1h-2zM27 427h6v1h-6zM489 427h4v1h-4zM521 427h2v1h-2zM624 427h1v1h-1zM9 428h2v1h-2zM21 428h6v1h-6zM33 428h2v1h-2zM486 428h3v1h-3zM523 428h3v1h-3zM624 428h1v1h-1zM11 429h3v1h-3zM17 429h4v1h-4zM35 429h3v1h-3zM483 429h3v1h-3zM526 429h3v1h-3zM623 429h1v1h-1zM14 430h3v1h-3zM38 430h2v1h-2zM481 430h2v1h-2zM529 430h4v1h-4zM621 430h2v1h-2zM40 431h1v1h-1zM478 431h3v1h-3zM533 431h4v1h-4zM620 431h1v1h-1zM41 432h2v1h-2zM476 432h2v1h-2zM537 432h2v1h-2zM619 432h1v1h-1zM43 433h1v1h-1zM474 433h2v1h-2zM539 433h3v1h-3zM617 433h2v1h-2zM44 434h1v1h-1zM472 434h2v1h-2zM542 434h3v1h-3zM616 434h1v1h-1zM45 435h2v1h-2zM470 435h2v1h-2zM545 435h4v1h-4zM615 435h1v1h-1zM47 436h12v1h-12zM468 436h2v1h-2zM549 436h4v1h-4zM613 436h2v1h-2zM59 437h5v1h-5zM466 437h2v1h-2zM553 437h4v1h-4zM611 437h2v1h-2zM64 438h2v1h-2zM464 438h2v1h-2zM557 438h6v1h-6zM610 438h1v1h-1zM66 439h2v1h-2zM462 439h2v1h-2zM563 439h8v1h-8zM608 439h2v1h-2zM68 440h2v1h-2zM460 440h2v1h-2zM571 440h6v1h-6zM606 440h2v1h-2zM70 441h3v1h-3zM85 441h3v1h-3zM458 441h2v1h-2zM577 441h4v1h-4zM603 441h3v1h-3zM73 442h4v1h-4zM81 442h4v1h-4zM88 442h2v1h-2zM456 442h2v1h-2zM581 442h6v1h-6zM601 442h2v1h-2zM77 443h4v1h-4zM90 443h1v1h-1zM454 443h2v1h-2zM587 443h14v1h-14zM91 444h2v1h-2zM452 444h2v1h-2zM93 445h2v1h-2zM450 445h2v1h-2zM95 446h2v1h-2zM448 446h2v1h-2zM97 447h4v1h-4zM446 447h2v1h-2zM101 448h4v1h-4zM444 448h2v1h-2zM105 449h2v1h-2zM442 449h2v1h-2zM107 450h3v1h-3zM440 450h2v1h-2zM110 451h2v1h-2zM438 451h2v1h-2zM112 452h2v1h-2zM436 452h2v1h-2zM114 453h2v1h-2zM434 453h2v1h-2zM116 454h2v1h-2zM432 454h2v1h-2zM118 455h3v1h-3zM430 455h2v1h-2zM121 456h2v1h-2zM428 456h2v1h-2zM123 457h3v1h-3zM426 457h2v1h-2zM126 458h2v1h-2zM424 458h2v1h-2zM128 459h2v1h-2zM422 459h2v1h-2zM130 460h2v1h-2zM420 460h2v1h-2zM132 461h2v1h-2zM181 461h4v1h-4zM418 461h2v1h-2zM134 462h2v1h-2zM177 462h4v1h-4zM185 462h4v1h-4zM416 462h2v1h-2zM136 463h2v1h-2zM173 463h4v1h-4zM189 463h3v1h-3zM414 463h2v1h-2zM138 464h2v1h-2zM169 464h4v1h-4zM192 464h2v1h-2zM411 464h3v1h-3zM140 465h2v1h-2zM163 465h6v1h-6zM194 465h1v1h-1zM409 465h2v1h-2zM142 466h5v1h-5zM155 466h8v1h-8zM195 466h2v1h-2zM407 466h2v1h-2zM147 467h8v1h-8zM197 467h2v1h-2zM406 467h1v1h-1zM199 468h1v1h-1zM405 468h1v1h-1zM200 469h1v1h-1zM404 469h1v1h-1zM201 470h2v1h-2zM403 470h1v1h-1zM203 471h1v1h-1zM402 471h1v1h-1zM204 472h1v1h-1zM401 472h1v1h-1zM205 473h2v1h-2zM400 473h1v1h-1zM207 474h1v1h-1zM398 474h2v1h-2zM208 475h2v1h-2zM396 475h2v1h-2zM210 476h2v1h-2zM394 476h2v1h-2zM212 477h2v1h-2zM392 477h2v1h-2zM214 478h2v1h-2zM390 478h2v1h-2zM216 479h1v1h-1zM388 479h2v1h-2zM217 480h1v1h-1zM386 480h2v1h-2zM217 481h1v1h-1zM384 481h2v1h-2zM218 482h1v1h-1zM382 482h2v1h-2zM219 483h1v1h-1zM380 483h2v1h-2zM220 484h1v1h-1zM378 484h2v1h-2zM221 485h1v1h-1zM376 485h2v1h-2zM221 486h1v1h-1zM374 486h2v1h-2zM222 487h1v1h-1zM372 487h2v1h-2zM223 488h1v1h-1zM370 488h2v1h-2zM224 489h1v1h-1zM315 489h6v1h-6zM368 489h2v1h-2zM225 490h1v1h-1zM309 490h6v1h-6zM321 490h4v1h-4zM365 490h3v1h-3zM226 491h1v1h-1zM305 491h4v1h-4zM325 491h6v1h-6zM347 491h8v1h-8zM361 491h4v1h-4zM227 492h1v1h-1zM303 492h2v1h-2zM331 492h16v1h-16zM355 492h6v1h-6zM228 493h1v1h-1zM301 493h2v1h-2zM229 494h1v1h-1zM299 494h2v1h-2zM230 495h1v1h-1zM298 495h1v1h-1zM231 496h1v1h-1zM296 496h2v1h-2zM232 497h1v1h-1zM294 497h2v1h-2zM233 498h1v1h-1zM292 498h2v1h-2zM234 499h1v1h-1zM290 499h2v1h-2zM235 500h2v1h-2zM288 500h2v1h-2zM237 501h1v1h-1zM287 501h1v1h-1zM238 502h1v1h-1zM285 502h2v1h-2zM239 503h1v1h-1zM284 503h1v1h-1zM240 504h2v1h-2zM283 504h1v1h-1zM242 505h2v1h-2zM281 505h2v1h-2zM244 506h2v1h-2zM280 506h1v1h-1zM246 507h2v1h-2zM278 507h2v1h-2zM248 508h2v1h-2zM275 508h3v1h-3zM250 509h2v1h-2zM273 509h2v1h-2zM252 510h2v1h-2zM269 510h4v1h-4zM254 511h5v1h-5zM265 511h4v1h-4zM259 512h6v1h-6z" fill="#ffa500" shape-rendering="crispEdges"/>
<path d="M855 158h4v1h-4zM853 159h2v1h-2zM859 159h5v1h-5zM851 160h2v1h-2zM864 160h1v1h-1zM850 161h1v1h-1zM865 161h2v1h-2zM848 162h2v1h-2zM867 162h1v1h-1zM846 163h2v1h-2zM868 163h1v1h-1zM844 164h2v1h-2zM869 164h2v1h-2zM842 165h2v1h-2zM871 165h1v1h-1zM840 166h2v1h-2zM872 166h1v1h-1zM838 167h2v1h-2zM873 167h1v1h-1zM835 168h3v1h-3zM874 168h1v1h-1zM833 169h2v1h-2zM875 169h2v1h-2zM827 170h6v1h-6zM877 170h1v1h-1zM823 171h4v1h-4zM878 171h1v1h-1zM822 172h1v1h-1zM879 172h1v1h-1zM821 173h1v1h-1zM880 173h2v1h-2zM819 174h2v1h-2zM882 174h2v1h-2zM818 175h1v1h-1zM884 175h2v1h-2zM817 176h1v1h-1zM886 176h2v1h-2zM816 177h1v1h-1zM888 177h1v1h-1zM815 178h1v1h-1zM889 178h1v1h-1zM813 179h2v1h-2zM889 179h1v1h-1zM811 180h2v1h-2zM890 180h1v1h-1zM810 181h1v1h-1zM891 181h1v1h-1zM808 182h2v1h-2zM892 182h1v1h-1zM807 183h1v1h-1zM893 183h1v1h-1zM806 184h1v1h-1zM893 184h1v1h-1zM806 185h1v1h-1zM894 185h1v1h-1zM805 186h1v1h-1zM895 186h1v1h-1zM805 187h1v1h-1zM896 187h1v1h-1zM804 188h1v1h-1zM897 188h1v1h-1zM804 189h1v1h-1zM897 189h1v1h-1zM803 190h1v1h-1zM898 190h1v1h-1zM803 191h1v1h-1zM899 191h1v1h-1zM802 192h1v1h-1zM900 192h1v1h-1zM802 193h1v1h-1zM901 193h1v1h-1zM801 194h1v1h-1zM901 194h1v1h-1zM801 195h1v1h-1zM902 195h1v1h-1zM800 196h1v1h-1zM903 196h1v1h-1zM800 197h1v1h-1zM904 197h1v1h-1zM799 198h1v1h-1zM905 198h1v1h-1zM799 199h1v1h-1zM905 199h1v1h-1zM798 200h1v1h-1zM906 200h1v1h-1zM798 201h1v1h-1zM907 201h1v1h-1zM797 202h1v1h-1zM908 202h1v1h-1zM797 203h1v1h-1zM909 203h1v1h-1zM797 204h1v1h-1zM909 204h1v1h-1zM796 205h1v1h-1zM910 205h1v1h-1zM796 206h1v1h-1zM911 206h1v1h-1zM796 207h1v1h-1zM912 207h1v1h-1zM795 208h1v1h-1zM913 208h1v1h-1zM795 209h1v1h-1zM914 209h1v1h-1zM794 210h1v1h-1zM915 210h2v1h-2zM794 211h1v1h-1zM917 211h1v1h-1zM794 212h1v1h-1zM918 212h1v1h-1zM793 213h1v1h-1zM919 213h2v1h-2zM793 214h1v1h-1zM921 214h4v1h-4zM793 215h1v1h-1zM925 215h4v1h-4zM792 216h1v1h-1zM929 216h4v1h-4zM792 217h1v1h-1zM933 217h6v1h-6zM791 218h1v1h-1zM939 218h16v1h-16zM1030 218h67v1h-67zM791 219h1v1h-1zM955 219h6v1h-6zM1027 219h3v1h-3zM1097 219h2v1h-2zM791 220h1v1h-1zM961 220h2v1h-2zM1025 220h2v1h-2zM1099 220h3v1h-3zM790 221h1v1h-1zM963 221h3v1h-3zM1021 221h4v1h-4zM1102 221h2v1h-2zM1166 221h3v1h-3zM790 222h1v1h-1zM966 222h3v1h-3zM1017 222h4v1h-4zM1104 222h2v1h-2zM1164 222h2v1h-2zM1169 222h2v1h-2zM790 223h1v1h-1zM969 223h4v1h-4zM1011 223h6v1h-6zM1106 223h2v1h-2zM1162 223h2v1h-2zM1171 223h3v1h-3zM789 224h1v1h-1zM973 224h6v1h-6zM1003 224h8v1h-8zM1108 224h2v1h-2zM1160 224h2v1h-2zM1174 224h3v1h-3zM789 225h1v1h-1zM979 225h24v1h-24zM1110 225h3v1h-3zM1158 225h2v1h-2zM1177 225h2v1h-2zM789 226h1v1h-1zM1113 226h4v1h-4zM1155 226h3v1h-3zM1179 226h3v1h-3zM788 227h1v1h-1zM1117 227h6v1h-6zM1153 227h2v1h-2zM1182 227h2v1h-2zM788 228h1v1h-1zM1123 228h6v1h-6zM1149 228h4v1h-4zM1184 228h2v1h-2zM788 229h1v1h-1zM1129 229h2v1h-2zM1145 229h4v1h-4zM1186 229h2v1h-2zM787 230h1v1h-1zM1131 230h3v1h-3zM1139 230h6v1h-6zM1188 230h2v1h-2zM787 231h1v1h-1zM1134 231h5v1h-5zM1190 231h3v1h-3zM786 232h1v1h-1zM1193 232h4v1h-4zM786 233h1v1h-1zM1197 233h4v1h-4zM786 234h1v1h-1zM1201 234h4v1h-4zM785 235h1v1h-1zM1205 235h2v1h-2zM785 236h1v1h-1zM785 237h1v1h-1zM784 238h1v1h-1zM784 239h1v1h-1zM784 240h1v1h-1zM783 241h1v1h-1zM783 242h1v1h-1zM783 243h1v1h-1zM782 244h1v1h-1zM782 245h1v1h-1zM781 246h1v1h-1zM781 247h1v1h-1zM781 248h1v1h-1zM780 249h1v1h-1zM780 250h1v1h-1zM780 251h1v1h-1zM779 252h1v1h-1zM779 253h1v1h-1zM778 254h1v1h-1zM778 255h1v1h-1zM778 256h1v1h-1zM777 257h1v1h-1zM777 258h1v1h-1zM777 259h1v1h-1zM776 260h1v1h-1zM776 261h1v1h-1zM775 262h1v1h-1zM775 263h1v1h-1zM775 264h1v1h-1zM774 265h1v1h-1zM774 266h1v1h-1zM773 267h1v1h-1zM773 268h1v1h-1zM773 269h1v1h-1zM772 270h1v1h-1zM772 271h1v1h-1zM772 272h1v1h-1zM771 273h1v1h-1zM771 274h1v1h-1zM770 275h1v1h-1zM770 276h1v1h-1zM770 277h1v1h-1zM769 278h1v1h-1zM769 279h1v1h-1zM769 280h1v1h-1zM768 281h1v1h-1zM768 282h1v1h-1zM767 283h1v1h-1zM767 284h1v1h-1zM767 285h1v1h-1zM766 286h1v1h-1zM766 287h1v1h-1zM765 288h1v1h-1zM765 289h1v1h-1zM765 290h1v1h-1zM764 291h1v1h-1zM764 292h1v1h-1zM764 293h1v1h-1zM763 294h1v1h-1zM763 295h1v1h-1zM762 296h1v1h-1zM762 297h1v1h-1zM762 298h1v1h-1zM761 299h1v1h-1zM761 300h1v1h-1zM761 301h1v1h-1zM760 302h1v1h-1zM760 303h1v1h-1zM759 304h1v1h-1zM759 305h1v1h-1zM759 306h1v1h-1zM758 307h1v1h-1zM758 308h1v1h-1zM757 309h1v1h-1zM757 310h1v1h-1zM757 311h1v1h-1zM756 312h1v1h-1zM756 313h1v1h-1zM755 314h1v1h-1zM755 315h1v1h-1zM755 316h1v1h-1zM754 317h1v1h-1zM754 318h1v1h-1zM753 319h1v1h-1zM753 320h1v1h-1zM753 321h1v1h-1zM752 322h1v1h-1zM752 323h1v1h-1zM751 324h1v1h-1zM751 325h1v1h-1zM750 326h1v1h-1zM750 327h1v1h-1zM749 328h1v1h-1zM749 329h1v1h-1zM748 330h1v1h-1zM747 331h1v1h-1zM747 332h1v1h-1zM746 333h1v1h-1zM745 334h1v1h-1zM745 335h1v1h-1zM744 336h1v1h-1zM744 337h1v1h-1zM743 338h1v1h-1zM742 339h1v1h-1zM742 340h1v1h-1zM741 341h1v1h-1zM741 342h1v1h-1zM740 343h1v1h-1zM740 344h1v1h-1zM739 345h1v1h-1zM738 346h1v1h-1zM738 347h1v1h-1zM737 348h1v1h-1zM737 349h1v1h-1zM736 350h1v1h-1zM736 351h1v1h-1zM735 352h1v1h-1zM734 353h1v1h-1zM734 354h1v1h-1zM733 355h1v1h-1zM733 356h1v1h-1zM732 357h1v1h-1zM731 358h1v1h-1zM731 359h1v1h-1zM730 360h1v1h-1zM729 361h1v1h-1zM729 362h1v1h-1zM728 363h1v1h-1zM728 364h1v1h-1zM727 365h1v1h-1zM726 366h1v1h-1zM725 367h1v1h-1zM725 368h1v1h-1zM724 369h1v1h-1zM723 370h1v1h-1zM722 371h1v1h-1zM721 372h1v1h-1zM721 373h1v1h-1zM720 374h1v1h-1zM719 375h1v1h-1zM718 376h1v1h-1zM718 377h1v1h-1zM717 378h1v1h-1zM716 379h1v1h-1zM715 380h1v1h-1zM715 381h1v1h-1zM714 382h1v1h-1zM713 383h1v1h-1zM712 384h1v1h-1zM712 385h1v1h-1zM711 386h1v1h-1zM710 387h1v1h-1zM710 388h1v1h-1zM709 389h1v1h-1zM708 390h1v1h-1zM707 391h1v1h-1zM707 392h1v1h-1zM706 393h1v1h-1zM705 394h1v1h-1zM704 395h1v1h-1zM704 396h1v1h-1zM703 397h1v1h-1zM702 398h1v1h-1zM701 399h1v1h-1zM700 400h1v1h-1zM699 401h1v1h-1zM699 402h1v1h-1zM698 403h1v1h-1zM697 404h1v1h-1zM696 405h1v1h-1zM695 406h1v1h-1zM694 407h1v1h-1zM693 408h1v1h-1zM691 409h2v1h-2zM690 410h1v1h-1zM689 411h1v1h-1zM688 412h1v1h-1zM686 413h2v1h-2zM683 414h3v1h-3zM681 415h2v1h-2zM678 416h3v1h-3zM676 417h2v1h-2zM674 418h2v1h-2zM672 419h2v1h-2zM669 420h3v1h-3zM665 421h4v1h-4zM662 422h3v1h-3zM659 423h3v1h-3zM657 424h2v1h-2zM653 425h4v1h-4zM649 426h4v1h-4zM646 427h3v1h-3zM643 428h3v1h-3zM35 429h8v1h-8zM641 429h2v1h-2zM29 430h6v1h-6zM43 430h8v1h-8zM638 430h3v1h-3zM25 431h4v1h-4zM51 431h24v1h-24zM555 431h8v1h-8zM635 431h3v1h-3zM19 432h6v1h-6zM75 432h6v1h-6zM533 432h22v1h-22zM563 432h8v1h-8zM633 432h2v1h-2zM7 433h12v1h-12zM81 433h4v1h-4zM529 433h4v1h-4zM571 433h8v1h-8zM629 433h4v1h-4zM85 434h4v1h-4zM523 434h6v1h-6zM579 434h6v1h-6zM625 434h4v1h-4zM89 435h4v1h-4zM518 435h5v1h-5zM585 435h4v1h-4zM619 435h6v1h-6zM93 436h4v1h-4zM515 436h3v1h-3zM589 436h14v1h-14zM611 436h8v1h-8zM97 437h2v1h-2zM513 437h2v1h-2zM603 437h8v1h-8zM99 438h3v1h-3zM509 438h4v1h-4zM102 439h3v1h-3zM505 439h4v1h-4zM105 440h4v1h-4zM502 440h3v1h-3zM109 441h4v1h-4zM499 441h3v1h-3zM113 442h2v1h-2zM497 442h2v1h-2zM115 443h3v1h-3zM494 443h3v1h-3zM118 444h3v1h-3zM491 444h3v1h-3zM121 445h4v1h-4zM489 445h2v1h-2zM125 446h4v1h-4zM486 446h3v1h-3zM129 447h2v1h-2zM484 447h2v1h-2zM131 448h3v1h-3zM482 448h2v1h-2zM134 449h3v1h-3zM480 449h2v1h-2zM137 450h2v1h-2zM478 450h2v1h-2zM139 451h3v1h-3zM475 451h3v1h-3zM142 452h3v1h-3zM473 452h2v1h-2zM145 453h4v1h-4zM470 453h3v1h-3zM149 454h6v1h-6zM468 454h2v1h-2zM155 455h8v1h-8zM466 455h2v1h-2zM163 456h8v1h-8zM464 456h2v1h-2zM171 457h6v1h-6zM463 457h1v1h-1zM177 458h4v1h-4zM461 458h2v1h-2zM181 459h4v1h-4zM460 459h1v1h-1zM185 460h4v1h-4zM459 460h1v1h-1zM189 461h4v1h-4zM457 461h2v1h-2zM193 462h2v1h-2zM456 462h1v1h-1zM195 463h3v1h-3zM454 463h2v1h-2zM198 464h3v1h-3zM451 464h3v1h-3zM201 465h4v1h-4zM449 465h2v1h-2zM205 466h4v1h-4zM446 466h3v1h-3zM209 467h4v1h-4zM444 467h2v1h-2zM213 468h3v1h-3zM442 468h2v1h-2zM216 469h2v1h-2zM440 469h2v1h-2zM218 470h1v1h-1zM438 470h2v1h-2zM219 471h2v1h-2zM436 471h2v1h-2zM221 472h2v1h-2zM434 472h2v1h-2zM223 473h2v1h-2zM432 473h2v1h-2zM225 474h2v1h-2zM430 474h2v1h-2zM227 475h3v1h-3zM427 475h3v1h-3zM230 476h3v1h-3zM425 476h2v1h-2zM233 477h2v1h-2zM421 477h4v1h-4zM235 478h3v1h-3zM417 478h4v1h-4zM238 479h3v1h-3zM414 479h3v1h-3zM241 480h2v1h-2zM411 480h3v1h-3zM243 481h3v1h-3zM409 481h2v1h-2zM246 482h2v1h-2zM406 482h3v1h-3zM248 483h2v1h-2zM403 483h3v1h-3zM250 484h2v1h-2zM401 484h2v1h-2zM252 485h2v1h-2zM395 485h6v1h-6zM254 486h3v1h-3zM387 486h8v1h-8zM257 487h2v1h-2zM381 487h6v1h-6zM259 488h3v1h-3zM377 488h4v1h-4zM262 489h3v1h-3zM374 489h3v1h-3zM265 490h2v1h-2zM371 490h3v1h-3zM267 491h3v1h-3zM369 491h2v1h-2zM270 492h3v1h-3zM366 492h3v1h-3zM273 493h2v1h-2zM363 493h3v1h-3zM275 494h3v1h-3zM361 494h2v1h-2zM278 495h5v1h-5zM355 495h6v1h-6zM283 496h8v1h-8zM349 496h6v1h-6zM291 497h6v1h-6zM345 497h4v1h-4zM297 498h2v1h-2zM339 498h6v1h-6zM299 499h3v1h-3zM333 499h6v1h-6zM302 500h21v1h-21zM329 500h4v1h-4zM323 501h6v1h-6z" fill="#ff0000" shape-rendering="crispEdges"/>
<path d="M981 191h11v1h-11zM977 192h4v1h-4zM992 192h2v1h-2zM971 193h6v1h-6zM994 193h2v1h-2zM958 194h13v1h-13zM996 194h2v1h-2zM955 195h3v1h-3zM998 195h2v1h-2zM953 196h2v1h-2zM1000 196h2v1h-2zM950 197h3v1h-3zM1002 197h2v1h-2zM947 198h3v1h-3zM1004 198h2v1h-2zM945 199h2v1h-2zM1006 199h3v1h-3zM939 200h6v1h-6zM1009 200h2v1h-2zM934 201h5v1h-5zM1011 201h3v1h-3zM931 202h3v1h-3zM1014 202h3v1h-3zM929 203h2v1h-2zM1017 203h2v1h-2zM927 204h2v1h-2zM1019 204h3v1h-3zM925 205h2v1h-2zM1022 205h3v1h-3zM923 206h2v1h-2zM1025 206h2v1h-2zM922 207h1v1h-1zM1027 207h3v1h-3zM920 208h2v1h-2zM1030 208h2v1h-2zM919 209h1v1h-1zM1032 209h1v1h-1zM917 210h2v1h-2zM1033 210h2v1h-2zM916 211h1v1h-1zM1035 211h1v1h-1zM915 212h1v1h-1zM1036 212h1v1h-1zM913 213h2v1h-2zM1037 213h2v1h-2zM912 214h1v1h-1zM1039 214h1v1h-1zM911 215h1v1h-1zM1040 215h2v1h-2zM909 216h2v1h-2zM1042 216h2v1h-2zM908 217h1v1h-1zM1044 217h2v1h-2zM907 218h1v1h-1zM1046 218h5v1h-5zM905 219h2v1h-2zM1051 219h48v1h-48zM904 220h1v1h-1zM1099 220h6v1h-6zM903 221h1v1h-1zM1105 221h4v1h-4zM901 222h2v1h-2zM1109 222h4v1h-4zM1163 222h22v1h-22zM900 223h1v1h-1zM1113 223h4v1h-4zM1155 223h8v1h-8zM1185 223h4v1h-4zM899 224h1v1h-1zM1117 224h4v1h-4zM1147 224h8v1h-8zM1189 224h6v1h-6zM897 225h2v1h-2zM1121 225h4v1h-4zM1139 225h8v1h-8zM1195 225h8v1h-8zM896 226h1v1h-1zM1125 226h14v1h-14zM1203 226h4v1h-4zM895 227h1v1h-1zM894 228h1v1h-1zM893 229h1v1h-1zM891 230h2v1h-2zM890 231h1v1h-1zM889 232h1v1h-1zM888 233h1v1h-1zM887 234h1v1h-1zM885 235h2v1h-2zM884 236h1v1h-1zM883 237h1v1h-1zM881 238h2v1h-2zM880 239h1v1h-1zM879 240h1v1h-1zM877 241h2v1h-2zM875 242h2v1h-2zM874 243h1v1h-1zM872 244h2v1h-2zM871 245h1v1h-1zM870 246h1v1h-1zM869 247h1v1h-1zM867 248h2v1h-2zM866 249h1v1h-1zM865 250h1v1h-1zM864 251h1v1h-1zM863 252h1v1h-1zM862 253h1v1h-1zM861 254h1v1h-1zM859 255h2v1h-2zM858 256h1v1h-1zM857 257h1v1h-1zM856 258h1v1h-1zM855 259h1v1h-1zM854 260h1v1h-1zM853 261h1v1h-1zM851 262h2v1h-2zM850 263h1v1h-1zM849 264h1v1h-1zM848 265h1v1h-1zM847 266h1v1h-1zM846 267h1v1h-1zM845 268h1v1h-1zM844 269h1v1h-1zM843 270h1v1h-1zM843 271h1v1h-1zM842 272h1v1h-1zM841 273h1v1h-1zM840 274h1v1h-1zM839 275h1v1h-1zM838 276h1v1h-1zM837 277h1v1h-1zM837 278h1v1h-1zM836 279h1v1h-1zM835 280h1v1h-1zM834 281h1v1h-1zM833 282h1v1h-1zM833 283h1v1h-1zM832 284h1v1h-1zM831 285h1v1h-1zM829 286h2v1h-2zM827 287h2v1h-2zM826 288h1v1h-1zM824 289h2v1h-2zM823 290h1v1h-1zM822 291h1v1h-1zM821 292h1v1h-1zM819 293h2v1h-2zM818 294h1v1h-1zM817 295h1v1h-1zM816 296h1v1h-1zM815 297h1v1h-1zM814 298h1v1h-1zM813 299h1v1h-1zM811 300h2v1h-2zM810 301h1v1h-1zM809 302h1v1h-1zM808 303h1v1h-1zM807 304h1v1h-1zM806 305h1v1h-1zM805 306h1v1h-1zM805 307h1v1h-1zM804 308h1v1h-1zM803 309h1v1h-1zM802 310h1v1h-1zM801 311h1v1h-1zM801 312h1v1h-1zM800 313h1v1h-1zM799 314h1v1h-1zM798 315h1v1h-1zM798 316h1v1h-1zM797 317h1v1h-1zM796 318h1v1h-1zM796 319h1v1h-1zM795 320h1v1h-1zM794 321h1v1h-1zM794 322h1v1h-1zM793 323h1v1h-1zM792 324h1v1h-1zM792 325h1v1h-1zM791 326h1v1h-1zM790 327h1v1h-1zM789 328h1v1h-1zM789 329h1v1h-1zM788 330h1v1h-1zM787 331h1v1h-1zM786 332h1v1h-1zM785 333h1v1h-1zM785 334h1v1h-1zM784 335h1v1h-1zM783 336h1v1h-1zM782 337h1v1h-1zM782 338h1v1h-1zM781 339h1v1h-1zM780 340h1v1h-1zM780 341h1v1h-1zM779 342h1v1h-1zM778 343h1v1h-1zM778 344h1v1h-1zM777 345h1v1h-1zM776 346h1v1h-1zM776 347h1v1h-1zM775 348h1v1h-1zM774 349h1v1h-1zM774 350h1v1h-1zM773 351h1v1h-1zM772 352h1v1h-1zM771 353h1v1h-1zM771 354h1v1h-1zM770 355h1v1h-1zM769 356h1v1h-1zM768 357h1v1h-1zM768 358h1v1h-1zM767 359h1v1h-1zM766 360h1v1h-1zM766 361h1v1h-1zM765 362h1v1h-1zM764 363h1v1h-1zM763 364h1v1h-1zM763 365h1v1h-1zM762 366h1v1h-1zM761 367h1v1h-1zM760 368h1v1h-1zM760 369h1v1h-1zM759 370h1v1h-1zM758 371h1v1h-1zM758 372h1v1h-1zM757 373h1v1h-1zM756 374h1v1h-1zM756 375h1v1h-1zM755 376h1v1h-1zM754 377h1v1h-1zM754 378h1v1h-1zM753 379h1v1h-1zM752 380h1v1h-1zM752 381h1v1h-1zM751 382h1v1h-1zM750 383h1v1h-1zM749 384h1v1h-1zM747 385h2v1h-2zM746 386h1v1h-1zM745 387h1v1h-1zM744 388h1v1h-1zM743 389h1v1h-1zM741 390h2v1h-2zM740 391h1v1h-1zM739 392h1v1h-1zM737 393h2v1h-2zM736 394h1v1h-1zM735 395h1v1h-1zM734 396h1v1h-1zM733 397h1v1h-1zM731 398h2v1h-2zM730 399h1v1h-1zM729 400h1v1h-1zM728 401h1v1h-1zM727 402h1v1h-1zM725 403h2v1h-2zM724 404h1v1h-1zM723 405h1v1h-1zM721 406h2v1h-2zM720 407h1v1h-1zM718 408h2v1h-2zM715 409h3v1h-3zM713 410h2v1h-2zM711 411h2v1h-2zM709 412h2v1h-2zM707 413h2v1h-2zM706 414h1v1h-1zM704 415h2v1h-2zM702 416h2v1h-2zM700 417h2v1h-2zM698 418h2v1h-2zM696 419h2v1h-2zM693 420h3v1h-3zM689 421h4v1h-4zM685 422h4v1h-4zM681 423h4v1h-4zM677 424h4v1h-4zM673 425h4v1h-4zM669 426h4v1h-4zM665 427h4v1h-4zM659 428h6v1h-6zM651 429h8v1h-8zM646 430h5v1h-5zM643 431h3v1h-3zM641 432h2v1h-2zM637 433h4v1h-4zM633 434h4v1h-4zM630 435h3v1h-3zM627 436h3v1h-3zM625 437h2v1h-2zM75 438h40v1h-40zM621 438h4v1h-4zM67 439h8v1h-8zM115 439h16v1h-16zM617 439h4v1h-4zM59 440h8v1h-8zM131 440h8v1h-8zM613 440h4v1h-4zM51 441h8v1h-8zM139 441h8v1h-8zM609 441h4v1h-4zM35 442h16v1h-16zM147 442h8v1h-8zM603 442h6v1h-6zM29 443h6v1h-6zM155 443h16v1h-16zM597 443h6v1h-6zM25 444h4v1h-4zM171 444h8v1h-8zM593 444h4v1h-4zM21 445h4v1h-4zM179 445h8v1h-8zM587 445h6v1h-6zM17 446h4v1h-4zM187 446h6v1h-6zM579 446h8v1h-8zM13 447h4v1h-4zM193 447h4v1h-4zM573 447h6v1h-6zM9 448h4v1h-4zM197 448h4v1h-4zM569 448h4v1h-4zM7 449h2v1h-2zM201 449h4v1h-4zM566 449h3v1h-3zM205 450h4v1h-4zM563 450h3v1h-3zM209 451h4v1h-4zM561 451h2v1h-2zM213 452h4v1h-4zM555 452h6v1h-6zM217 453h2v1h-2zM549 453h6v1h-6zM219 454h3v1h-3zM545 454h4v1h-4zM222 455h3v1h-3zM541 455h4v1h-4zM225 456h4v1h-4zM537 456h4v1h-4zM229 457h4v1h-4zM533 457h4v1h-4zM233 458h2v1h-2zM529 458h4v1h-4zM235 459h3v1h-3zM523 459h6v1h-6zM238 460h2v1h-2zM517 460h6v1h-6zM240 461h2v1h-2zM513 461h4v1h-4zM242 462h2v1h-2zM510 462h3v1h-3zM244 463h2v1h-2zM507 463h3v1h-3zM246 464h3v1h-3zM505 464h2v1h-2zM249 465h4v1h-4zM502 465h3v1h-3zM253 466h4v1h-4zM499 466h3v1h-3zM257 467h2v1h-2zM497 467h2v1h-2zM259 468h3v1h-3zM493 468h4v1h-4zM262 469h3v1h-3zM489 469h4v1h-4zM265 470h2v1h-2zM487 470h2v1h-2zM267 471h3v1h-3zM485 471h2v1h-2zM270 472h3v1h-3zM483 472h2v1h-2zM273 473h4v1h-4zM482 473h1v1h-1zM277 474h12v1h-12zM480 474h2v1h-2zM289 475h4v1h-4zM478 475h2v1h-2zM293 476h4v1h-4zM475 476h3v1h-3zM297 477h4v1h-4zM473 477h2v1h-2zM301 478h6v1h-6zM469 478h4v1h-4zM307 479h6v1h-6zM465 479h4v1h-4zM313 480h4v1h-4zM461 480h4v1h-4zM317 481h4v1h-4zM457 481h4v1h-4zM321 482h4v1h-4zM453 482h4v1h-4zM325 483h6v1h-6zM449 483h4v1h-4zM331 484h6v1h-6zM443 484h6v1h-6zM337 485h4v1h-4zM437 485h6v1h-6zM341 486h6v1h-6zM433 486h4v1h-4zM347 487h16v1h-16zM427 487h6v1h-6zM363 488h32v1h-32zM411 488h16v1h-16zM395 489h16v1h-16z" fill="#0000cd" shape-rendering="crispEdges"/>
<rect x="7" y="51" width="1515" height="2" fill="#ff0000"/>
<rect x="7" y="130" width="1515" height="2" fill="#ff0000"/>
<rect x="7" y="205" width="1515" height="2" fill="#00ff00"/>
<rect x="7" y="275" width="1515" height="2" fill="#0000ff"/>
<rect x="7" y="341" width="1515" height="2" fill="#0000ff"/>
<rect x="7" y="423" width="1515" height="2" fill="#0000ff"/>
</g>
<rect x="6" y="49" width="6" height="6" fill="#ff0000"/>
<rect x="8" y="51" width="2" height="2" fill="#fff"/>
<rect x="1516" y="49" width="6" height="6" fill="#ff0000"/>
<rect x="1518" y="51" width="2" height="2" fill="#fff"/>
<rect x="6" y="128" width="6" height="6" fill="#ff0000"/>
<rect x="8" y="130" width="2" height="2" fill="#fff"/>
<rect x="1516" y="128" width="6" height="6" fill="#ff0000"/>
<rect x="1518" y="130" width="2" height="2" fill="#fff"/>
<rect x="6" y="203" width="6" height="6" fill="#00ff00"/>
<rect x="8" y="205" width="2" height="2" fill="#fff"/>
<rect x="1516" y="203" width="6" height="6" fill="#00ff00"/>
<rect x="1518" y="205" width="2" height="2" fill="#fff"/>
<rect x="6" y="273" width="6" height="6" fill="#0000ff"/>
<rect x="8" y="275" width="2" height="2" fill="#fff"/>
<rect x="1516" y="273" width="6" height="6" fill="#0000ff"/>
<rect x="1518" y="275" width="2" height="2" fill="#fff"/>
<rect x="6" y="339" width="6" height="6" fill="#0000ff"/>
<rect x="8" y="341" width="2" height="2" fill="#fff"/>
<rect x="1516" y="339" width="6" height="6" fill="#0000ff"/>
<rect x="1518" y="341" width="2" height="2" fill="#fff"/>
<rect x="6" y="421" width="6" height="6" fill="#0000ff"/>
<rect x="8" y="423" width="2" height="2" fill="#fff"/>
<rect x="1516" y="421" width="6" height="6" fill="#0000ff"/>
<rect x="1518" y="423" width="2" height="2" fill="#fff"/>
<polygon points="10,34 17,34 13.5,38.2" fill="#000"/>
<g font-family="'Liberation Sans', sans-serif" style="font-kerning:none">
<text x="21.64" y="39" font-size="10.3" textLength="66.28" lengthAdjust="spacingAndGlyphs" fill="#000" stroke="#000" stroke-width="0.2">USDCAD,Daily</text>
<text x="93.49" y="39" font-size="10.3" textLength="33.93" lengthAdjust="spacingAndGlyphs" fill="#000" stroke="#000" stroke-width="0.2">1.39473</text>
<text x="129.48" y="39" font-size="10.3" textLength="33.99" lengthAdjust="spacingAndGlyphs" fill="#000" stroke="#000" stroke-width="0.2">1.39622</text>
<text x="165.39" y="39" font-size="10.3" textLength="33.79" lengthAdjust="spacingAndGlyphs" fill="#000" stroke="#000" stroke-width="0.2">1.39294</text>
<text x="201.29" y="39" font-size="10.3" textLength="33.88" lengthAdjust="spacingAndGlyphs" fill="#000" stroke="#000" stroke-width="0.2">1.39490</text>
<rect x="1523" y="34" width="2" height="1" fill="#000"/>
<text x="1527.91" y="38" font-size="10.3" textLength="32.85" lengthAdjust="spacingAndGlyphs" fill="#000" stroke="#000" stroke-width="0.2">1.47340</text>
<rect x="1523" y="67" width="2" height="1" fill="#000"/>
<text x="1527.91" y="71" font-size="10.3" textLength="32.87" lengthAdjust="spacingAndGlyphs" fill="#000" stroke="#000" stroke-width="0.2">1.46115</text>
<rect x="1523" y="100" width="2" height="1" fill="#000"/>
<text x="1527.91" y="104" font-size="10.3" textLength="32.85" lengthAdjust="spacingAndGlyphs" fill="#000" stroke="#000" stroke-width="0.2">1.44890</text>
<rect x="1523" y="133" width="2" height="1" fill="#000"/>
<text x="1527.91" y="137" font-size="10.3" textLength="32.87" lengthAdjust="spacingAndGlyphs" fill="#000" stroke="#000" stroke-width="0.2">1.43665</text>
<rect x="1523" y="166" width="2" height="1" fill="#000"/>
<text x="1527.91" y="170" font-size="10.3" textLength="32.87" lengthAdjust="spacingAndGlyphs" fill="#000" stroke="#000" stroke-width="0.2">1.42475</text>
<rect x="1523" y="199" width="2" height="1" fill="#000"/>
<text x="1527.91" y="203" font-size="10.3" textLength="32.87" lengthAdjust="spacingAndGlyphs" fill="#000" stroke="#000" stroke-width="0.2">1.41285</text>
<rect x="1523" y="232" width="2" height="1" fill="#000"/>
<text x="1527.91" y="236" font-size="10.3" textLength="32.85" lengthAdjust="spacingAndGlyphs" fill="#000" stroke="#000" stroke-width="0.2">1.40060</text>
<rect x="1523" y="265" width="2" height="1" fill="#000"/>
<text x="1527.91" y="269" font-size="10.3" textLength="32.87" lengthAdjust="spacingAndGlyphs" fill="#000" stroke="#000" stroke-width="0.2">1.38835</text>
<rect x="1523" y="298" width="2" height="1" fill="#000"/>
<text x="1527.91" y="302" font-size="10.3" textLength="32.87" lengthAdjust="spacingAndGlyphs" fill="#000" stroke="#000" stroke-width="0.2">1.37645</text>
<rect x="1523" y="331" width="2" height="1" fill="#000"/>
<text x="1527.91" y="335" font-size="10.3" textLength="32.85" lengthAdjust="spacingAndGlyphs" fill="#000" stroke="#000" stroke-width="0.2">1.36420</text>
<rect x="1523" y="364" width="2" height="1" fill="#000"/>
<text x="1527.91" y="368" font-size="10.3" textLength="32.85" lengthAdjust="spacingAndGlyphs" fill="#000" stroke="#000" stroke-width="0.2">1.35230</text>
<rect x="1523" y="397" width="2" height="1" fill="#000"/>
<text x="1527.91" y="401" font-size="10.3" textLength="32.87" lengthAdjust="spacingAndGlyphs" fill="#000" stroke="#000" stroke-width="0.2">1.34005</text>
<rect x="1523" y="430" width="2" height="1" fill="#000"/>
<text x="1527.91" y="434" font-size="10.3" textLength="32.85" lengthAdjust="spacingAndGlyphs" fill="#000" stroke="#000" stroke-width="0.2">1.32780</text>
<rect x="1523" y="463" width="2" height="1" fill="#000"/>
<text x="1527.91" y="467" font-size="10.3" textLength="32.85" lengthAdjust="spacingAndGlyphs" fill="#000" stroke="#000" stroke-width="0.2">1.31590</text>
<rect x="1523" y="496" width="2" height="1" fill="#000"/>
<text x="1527.91" y="500" font-size="10.3" textLength="32.87" lengthAdjust="spacingAndGlyphs" fill="#000" stroke="#000" stroke-width="0.2">1.30365</text>
<rect x="1523" y="529" width="2" height="1" fill="#000"/>
<text x="1527.91" y="533" font-size="10.3" textLength="32.87" lengthAdjust="spacingAndGlyphs" fill="#000" stroke="#000" stroke-width="0.2">1.29175</text>
</g>
<rect x="1524" y="46" width="41" height="11" fill="#ff0000"/>
<rect x="1524" y="125" width="41" height="11" fill="#ff0000"/>
<rect x="1524" y="200" width="41" height="11" fill="#00ff00"/>
<rect x="1524" y="270" width="41" height="11" fill="#0000ff"/>
<rect x="1524" y="336" width="41" height="11" fill="#0000ff"/>
<rect x="1524" y="418" width="41" height="11" fill="#0000ff"/>
<rect x="1524" y="243" width="41" height="11" fill="#000000"/>
<g font-family="'Liberation Sans', sans-serif" style="font-kerning:none">
<text x="1527.91" y="55" font-size="10.3" textLength="32.94" lengthAdjust="spacingAndGlyphs" fill="#fff" stroke="#fff" stroke-width="0.2">1.46651</text>
<text x="1527.91" y="134" font-size="10.3" textLength="32.85" lengthAdjust="spacingAndGlyphs" fill="#fff" stroke="#fff" stroke-width="0.2">1.43780</text>
<text x="1527.91" y="209" font-size="10.3" textLength="32.85" lengthAdjust="spacingAndGlyphs" fill="#fff" stroke="#fff" stroke-width="0.2">1.41000</text>
<text x="1527.91" y="279" font-size="10.3" textLength="32.95" lengthAdjust="spacingAndGlyphs" fill="#fff" stroke="#fff" stroke-width="0.2">1.38447</text>
<text x="1527.91" y="345" font-size="10.3" textLength="32.93" lengthAdjust="spacingAndGlyphs" fill="#fff" stroke="#fff" stroke-width="0.2">1.36029</text>
<text x="1527.91" y="427" font-size="10.3" textLength="32.89" lengthAdjust="spacingAndGlyphs" fill="#fff" stroke="#fff" stroke-width="0.2">1.33026</text>
<text x="1527.91" y="252" font-size="10.3" textLength="32.85" lengthAdjust="spacingAndGlyphs" fill="#fff" stroke="#fff" stroke-width="0.2">1.39490</text>
</g>
<g clip-path="url(#crsi)">
<line x1="7" y1="562.5" x2="1522" y2="562.5" stroke="#c0c0c0" stroke-width="1" stroke-dasharray="3,3" shape-rendering="crispEdges" stroke-dashoffset="-1"/>
<line x1="7" y1="598.5" x2="1522" y2="598.5" stroke="#c0c0c0" stroke-width="1" stroke-dasharray="3,3" shape-rendering="crispEdges" stroke-dashoffset="-1"/>
<path d="M758 545h3v1h-3zM755 546h3v1h-3zM761 546h2v1h-2zM725 547h3v1h-3zM753 547h2v1h-2zM763 547h3v1h-3zM703 548h1v1h-1zM721 548h4v1h-4zM728 548h1v1h-1zM750 548h3v1h-3zM766 548h2v1h-2zM702 549h1v1h-1zM704 549h2v1h-2zM718 549h3v1h-3zM729 549h2v1h-2zM748 549h2v1h-2zM768 549h1v1h-1zM701 550h1v1h-1zM706 550h2v1h-2zM715 550h3v1h-3zM731 550h1v1h-1zM746 550h2v1h-2zM769 550h1v1h-1zM700 551h1v1h-1zM708 551h2v1h-2zM713 551h2v1h-2zM732 551h1v1h-1zM744 551h2v1h-2zM770 551h1v1h-1zM699 552h1v1h-1zM710 552h3v1h-3zM733 552h2v1h-2zM739 552h5v1h-5zM771 552h2v1h-2zM699 553h1v1h-1zM735 553h4v1h-4zM773 553h1v1h-1zM787 553h6v1h-6zM483 554h6v1h-6zM501 554h3v1h-3zM698 554h1v1h-1zM774 554h1v1h-1zM779 554h8v1h-8zM793 554h2v1h-2zM467 555h16v1h-16zM489 555h4v1h-4zM497 555h4v1h-4zM504 555h1v1h-1zM697 555h1v1h-1zM775 555h4v1h-4zM795 555h3v1h-3zM459 556h8v1h-8zM493 556h4v1h-4zM505 556h1v1h-1zM631 556h1v1h-1zM696 556h1v1h-1zM798 556h2v1h-2zM454 557h5v1h-5zM506 557h1v1h-1zM629 557h2v1h-2zM632 557h2v1h-2zM695 557h1v1h-1zM800 557h1v1h-1zM451 558h3v1h-3zM507 558h1v1h-1zM627 558h2v1h-2zM634 558h2v1h-2zM694 558h1v1h-1zM801 558h1v1h-1zM449 559h2v1h-2zM508 559h1v1h-1zM626 559h1v1h-1zM636 559h2v1h-2zM693 559h1v1h-1zM802 559h1v1h-1zM443 560h6v1h-6zM509 560h1v1h-1zM624 560h2v1h-2zM638 560h3v1h-3zM691 560h2v1h-2zM803 560h1v1h-1zM429 561h14v1h-14zM510 561h1v1h-1zM623 561h1v1h-1zM641 561h2v1h-2zM690 561h1v1h-1zM804 561h1v1h-1zM425 562h4v1h-4zM511 562h1v1h-1zM621 562h2v1h-2zM643 562h3v1h-3zM689 562h1v1h-1zM805 562h1v1h-1zM422 563h3v1h-3zM512 563h1v1h-1zM620 563h1v1h-1zM646 563h2v1h-2zM688 563h1v1h-1zM806 563h1v1h-1zM419 564h3v1h-3zM513 564h1v1h-1zM619 564h1v1h-1zM648 564h1v1h-1zM677 564h11v1h-11zM807 564h1v1h-1zM417 565h2v1h-2zM514 565h1v1h-1zM617 565h2v1h-2zM649 565h1v1h-1zM673 565h4v1h-4zM808 565h1v1h-1zM407 566h10v1h-10zM515 566h1v1h-1zM616 566h1v1h-1zM650 566h1v1h-1zM663 566h10v1h-10zM808 566h1v1h-1zM405 567h2v1h-2zM515 567h1v1h-1zM611 567h5v1h-5zM651 567h1v1h-1zM661 567h2v1h-2zM809 567h1v1h-1zM23 568h2v1h-2zM403 568h2v1h-2zM516 568h1v1h-1zM606 568h5v1h-5zM651 568h1v1h-1zM660 568h1v1h-1zM809 568h1v1h-1zM21 569h2v1h-2zM25 569h2v1h-2zM402 569h1v1h-1zM517 569h1v1h-1zM604 569h2v1h-2zM652 569h1v1h-1zM659 569h1v1h-1zM810 569h1v1h-1zM19 570h2v1h-2zM27 570h3v1h-3zM382 570h5v1h-5zM400 570h2v1h-2zM518 570h1v1h-1zM602 570h2v1h-2zM653 570h1v1h-1zM657 570h2v1h-2zM811 570h1v1h-1zM18 571h1v1h-1zM30 571h2v1h-2zM379 571h3v1h-3zM387 571h13v1h-13zM519 571h4v1h-4zM531 571h6v1h-6zM600 571h2v1h-2zM654 571h1v1h-1zM656 571h1v1h-1zM811 571h1v1h-1zM7 572h4v1h-4zM16 572h2v1h-2zM32 572h1v1h-1zM377 572h2v1h-2zM523 572h8v1h-8zM537 572h4v1h-4zM599 572h1v1h-1zM655 572h1v1h-1zM812 572h1v1h-1zM11 573h5v1h-5zM32 573h1v1h-1zM375 573h2v1h-2zM541 573h4v1h-4zM558 573h2v1h-2zM598 573h1v1h-1zM813 573h1v1h-1zM854 573h2v1h-2zM991 573h1v1h-1zM33 574h1v1h-1zM374 574h1v1h-1zM545 574h2v1h-2zM555 574h3v1h-3zM560 574h2v1h-2zM598 574h1v1h-1zM813 574h1v1h-1zM839 574h2v1h-2zM851 574h3v1h-3zM856 574h2v1h-2zM989 574h2v1h-2zM992 574h2v1h-2zM33 575h1v1h-1zM373 575h1v1h-1zM547 575h3v1h-3zM553 575h2v1h-2zM562 575h2v1h-2zM597 575h1v1h-1zM814 575h1v1h-1zM838 575h1v1h-1zM841 575h4v1h-4zM849 575h2v1h-2zM858 575h2v1h-2zM875 575h6v1h-6zM955 575h5v1h-5zM987 575h2v1h-2zM994 575h2v1h-2zM34 576h1v1h-1zM372 576h1v1h-1zM550 576h3v1h-3zM564 576h2v1h-2zM596 576h1v1h-1zM814 576h1v1h-1zM819 576h5v1h-5zM837 576h1v1h-1zM845 576h4v1h-4zM860 576h2v1h-2zM867 576h8v1h-8zM881 576h4v1h-4zM951 576h4v1h-4zM960 576h2v1h-2zM986 576h1v1h-1zM996 576h2v1h-2zM1095 576h1v1h-1zM35 577h1v1h-1zM371 577h1v1h-1zM566 577h3v1h-3zM596 577h1v1h-1zM815 577h4v1h-4zM824 577h2v1h-2zM835 577h2v1h-2zM862 577h5v1h-5zM885 577h3v1h-3zM950 577h1v1h-1zM962 577h1v1h-1zM984 577h2v1h-2zM998 577h2v1h-2zM1063 577h2v1h-2zM1093 577h2v1h-2zM1096 577h1v1h-1zM1142 577h5v1h-5zM1155 577h13v1h-13zM35 578h1v1h-1zM55 578h4v1h-4zM371 578h1v1h-1zM569 578h4v1h-4zM595 578h1v1h-1zM826 578h1v1h-1zM834 578h1v1h-1zM888 578h2v1h-2zM949 578h1v1h-1zM963 578h2v1h-2zM981 578h3v1h-3zM1000 578h2v1h-2zM1014 578h11v1h-11zM1062 578h1v1h-1zM1065 578h4v1h-4zM1075 578h6v1h-6zM1091 578h2v1h-2zM1097 578h1v1h-1zM1140 578h2v1h-2zM1147 578h8v1h-8zM1168 578h1v1h-1zM36 579h1v1h-1zM54 579h1v1h-1zM59 579h5v1h-5zM287 579h1v1h-1zM370 579h1v1h-1zM573 579h6v1h-6zM594 579h1v1h-1zM827 579h2v1h-2zM833 579h1v1h-1zM890 579h1v1h-1zM948 579h1v1h-1zM965 579h2v1h-2zM977 579h4v1h-4zM1002 579h2v1h-2zM1011 579h3v1h-3zM1025 579h2v1h-2zM1061 579h1v1h-1zM1069 579h6v1h-6zM1081 579h2v1h-2zM1090 579h1v1h-1zM1098 579h1v1h-1zM1138 579h2v1h-2zM1169 579h1v1h-1zM37 580h1v1h-1zM54 580h1v1h-1zM64 580h2v1h-2zM286 580h1v1h-1zM288 580h1v1h-1zM369 580h1v1h-1zM579 580h5v1h-5zM594 580h1v1h-1zM829 580h2v1h-2zM832 580h1v1h-1zM891 580h2v1h-2zM947 580h1v1h-1zM967 580h10v1h-10zM1004 580h2v1h-2zM1009 580h2v1h-2zM1027 580h3v1h-3zM1061 580h1v1h-1zM1083 580h3v1h-3zM1088 580h2v1h-2zM1099 580h1v1h-1zM1127 580h4v1h-4zM1136 580h2v1h-2zM1170 580h1v1h-1zM37 581h1v1h-1zM53 581h1v1h-1zM66 581h2v1h-2zM285 581h1v1h-1zM289 581h2v1h-2zM368 581h1v1h-1zM584 581h2v1h-2zM593 581h1v1h-1zM831 581h1v1h-1zM893 581h2v1h-2zM899 581h8v1h-8zM947 581h1v1h-1zM1006 581h3v1h-3zM1030 581h3v1h-3zM1060 581h1v1h-1zM1086 581h2v1h-2zM1100 581h1v1h-1zM1125 581h2v1h-2zM1131 581h5v1h-5zM1171 581h2v1h-2zM38 582h1v1h-1zM52 582h1v1h-1zM68 582h2v1h-2zM75 582h6v1h-6zM284 582h1v1h-1zM291 582h1v1h-1zM347 582h8v1h-8zM363 582h5v1h-5zM586 582h2v1h-2zM592 582h1v1h-1zM895 582h4v1h-4zM907 582h8v1h-8zM946 582h1v1h-1zM1033 582h4v1h-4zM1059 582h1v1h-1zM1101 582h1v1h-1zM1123 582h2v1h-2zM1173 582h1v1h-1zM38 583h1v1h-1zM52 583h1v1h-1zM70 583h5v1h-5zM81 583h2v1h-2zM283 583h1v1h-1zM292 583h1v1h-1zM317 583h4v1h-4zM342 583h5v1h-5zM355 583h8v1h-8zM588 583h2v1h-2zM592 583h1v1h-1zM915 583h22v1h-22zM945 583h1v1h-1zM1037 583h4v1h-4zM1058 583h1v1h-1zM1102 583h1v1h-1zM1122 583h1v1h-1zM1174 583h1v1h-1zM39 584h1v1h-1zM51 584h1v1h-1zM83 584h3v1h-3zM283 584h1v1h-1zM293 584h2v1h-2zM299 584h8v1h-8zM313 584h4v1h-4zM321 584h4v1h-4zM339 584h3v1h-3zM590 584h2v1h-2zM937 584h4v1h-4zM944 584h1v1h-1zM1041 584h2v1h-2zM1057 584h1v1h-1zM1103 584h2v1h-2zM1120 584h2v1h-2zM1175 584h1v1h-1zM1197 584h10v1h-10zM40 585h1v1h-1zM50 585h1v1h-1zM86 585h3v1h-3zM163 585h6v1h-6zM282 585h1v1h-1zM295 585h4v1h-4zM307 585h6v1h-6zM325 585h6v1h-6zM337 585h2v1h-2zM941 585h3v1h-3zM1043 585h3v1h-3zM1057 585h1v1h-1zM1105 585h4v1h-4zM1115 585h5v1h-5zM1176 585h2v1h-2zM1193 585h4v1h-4zM41 586h2v1h-2zM50 586h1v1h-1zM89 586h2v1h-2zM101 586h4v1h-4zM151 586h12v1h-12zM169 586h2v1h-2zM181 586h3v1h-3zM281 586h1v1h-1zM331 586h6v1h-6zM1046 586h5v1h-5zM1056 586h1v1h-1zM1109 586h6v1h-6zM1178 586h2v1h-2zM1189 586h4v1h-4zM43 587h1v1h-1zM49 587h1v1h-1zM91 587h3v1h-3zM97 587h4v1h-4zM105 587h4v1h-4zM150 587h1v1h-1zM171 587h3v1h-3zM177 587h4v1h-4zM184 587h1v1h-1zM280 587h1v1h-1zM1051 587h5v1h-5zM1180 587h2v1h-2zM1185 587h4v1h-4zM44 588h1v1h-1zM48 588h1v1h-1zM94 588h3v1h-3zM109 588h3v1h-3zM149 588h1v1h-1zM174 588h3v1h-3zM185 588h2v1h-2zM279 588h1v1h-1zM1182 588h3v1h-3zM45 589h2v1h-2zM48 589h1v1h-1zM112 589h2v1h-2zM147 589h2v1h-2zM187 589h1v1h-1zM277 589h2v1h-2zM47 590h1v1h-1zM114 590h2v1h-2zM146 590h1v1h-1zM188 590h1v1h-1zM275 590h2v1h-2zM116 591h2v1h-2zM123 591h5v1h-5zM145 591h1v1h-1zM189 591h2v1h-2zM274 591h1v1h-1zM118 592h5v1h-5zM128 592h2v1h-2zM144 592h1v1h-1zM191 592h2v1h-2zM272 592h2v1h-2zM130 593h1v1h-1zM142 593h2v1h-2zM193 593h4v1h-4zM271 593h1v1h-1zM131 594h2v1h-2zM139 594h3v1h-3zM197 594h4v1h-4zM270 594h1v1h-1zM133 595h2v1h-2zM137 595h2v1h-2zM201 595h4v1h-4zM269 595h1v1h-1zM135 596h2v1h-2zM205 596h4v1h-4zM268 596h1v1h-1zM209 597h2v1h-2zM267 597h1v1h-1zM211 598h3v1h-3zM267 598h1v1h-1zM214 599h2v1h-2zM266 599h1v1h-1zM216 600h1v1h-1zM265 600h1v1h-1zM217 601h2v1h-2zM251 601h8v1h-8zM264 601h1v1h-1zM219 602h1v1h-1zM230 602h5v1h-5zM243 602h8v1h-8zM259 602h5v1h-5zM220 603h1v1h-1zM227 603h3v1h-3zM235 603h8v1h-8zM221 604h2v1h-2zM225 604h2v1h-2zM223 605h2v1h-2z" fill="#1e90ff" shape-rendering="crispEdges"/>
</g>
<rect x="1523" y="536" width="1" height="1" fill="#000"/>
<rect x="1523" y="625" width="1" height="1" fill="#000"/>
<g font-family="'Liberation Sans', sans-serif" style="font-kerning:none">
<text x="10.74" y="547" font-size="10.3" textLength="68.27" lengthAdjust="spacingAndGlyphs" fill="#000" stroke="#000" stroke-width="0.2">RSI(14) 46.0543</text>
<text x="1525.49" y="545" font-size="10.3" textLength="15.58" lengthAdjust="spacingAndGlyphs" fill="#000" stroke="#000" stroke-width="0.2">100</text>
<text x="1524.92" y="566" font-size="10.3" textLength="10.45" lengthAdjust="spacingAndGlyphs" fill="#000" stroke="#000" stroke-width="0.2">70</text>
<text x="1525.05" y="602" font-size="10.3" textLength="10.32" lengthAdjust="spacingAndGlyphs" fill="#000" stroke="#000" stroke-width="0.2">30</text>
<text x="1525.59" y="623" font-size="10.3" textLength="5.82" lengthAdjust="spacingAndGlyphs" fill="#000" stroke="#000" stroke-width="0.2">0</text>
</g>
<g clip-path="url(#cmacd)">
<rect x="7" y="696" width="1" height="7" fill="#c0c0c0"/>
<rect x="15" y="696" width="1" height="7" fill="#c0c0c0"/>
<rect x="23" y="696" width="1" height="7" fill="#c0c0c0"/>
<rect x="31" y="696" width="1" height="7" fill="#c0c0c0"/>
<rect x="39" y="698" width="1" height="5" fill="#c0c0c0"/>
<rect x="47" y="700" width="1" height="3" fill="#c0c0c0"/>
<rect x="55" y="699" width="1" height="4" fill="#c0c0c0"/>
<rect x="63" y="700" width="1" height="3" fill="#c0c0c0"/>
<rect x="71" y="701" width="1" height="2" fill="#c0c0c0"/>
<rect x="79" y="700" width="1" height="3" fill="#c0c0c0"/>
<rect x="87" y="702" width="1" height="1" fill="#c0c0c0"/>
<rect x="95" y="702" width="1" height="1" fill="#c0c0c0"/>
<rect x="103" y="702" width="1" height="1" fill="#c0c0c0"/>
<rect x="111" y="702" width="1" height="1" fill="#c0c0c0"/>
<rect x="119" y="702" width="1" height="2" fill="#c0c0c0"/>
<rect x="127" y="702" width="1" height="2" fill="#c0c0c0"/>
<rect x="135" y="702" width="1" height="5" fill="#c0c0c0"/>
<rect x="143" y="702" width="1" height="5" fill="#c0c0c0"/>
<rect x="151" y="702" width="1" height="5" fill="#c0c0c0"/>
<rect x="159" y="702" width="1" height="4" fill="#c0c0c0"/>
<rect x="167" y="702" width="1" height="5" fill="#c0c0c0"/>
<rect x="175" y="702" width="1" height="5" fill="#c0c0c0"/>
<rect x="183" y="702" width="1" height="5" fill="#c0c0c0"/>
<rect x="191" y="702" width="1" height="6" fill="#c0c0c0"/>
<rect x="199" y="702" width="1" height="6" fill="#c0c0c0"/>
<rect x="207" y="702" width="1" height="6" fill="#c0c0c0"/>
<rect x="215" y="702" width="1" height="8" fill="#c0c0c0"/>
<rect x="223" y="702" width="1" height="10" fill="#c0c0c0"/>
<rect x="231" y="702" width="1" height="11" fill="#c0c0c0"/>
<rect x="239" y="702" width="1" height="12" fill="#c0c0c0"/>
<rect x="247" y="702" width="1" height="12" fill="#c0c0c0"/>
<rect x="255" y="702" width="1" height="12" fill="#c0c0c0"/>
<rect x="263" y="702" width="1" height="12" fill="#c0c0c0"/>
<rect x="271" y="702" width="1" height="12" fill="#c0c0c0"/>
<rect x="279" y="702" width="1" height="12" fill="#c0c0c0"/>
<rect x="287" y="702" width="1" height="10" fill="#c0c0c0"/>
<rect x="295" y="702" width="1" height="9" fill="#c0c0c0"/>
<rect x="303" y="702" width="1" height="8" fill="#c0c0c0"/>
<rect x="311" y="702" width="1" height="7" fill="#c0c0c0"/>
<rect x="319" y="702" width="1" height="6" fill="#c0c0c0"/>
<rect x="327" y="702" width="1" height="6" fill="#c0c0c0"/>
<rect x="335" y="702" width="1" height="5" fill="#c0c0c0"/>
<rect x="343" y="702" width="1" height="5" fill="#c0c0c0"/>
<rect x="351" y="702" width="1" height="4" fill="#c0c0c0"/>
<rect x="359" y="702" width="1" height="4" fill="#c0c0c0"/>
<rect x="367" y="702" width="1" height="3" fill="#c0c0c0"/>
<rect x="375" y="702" width="1" height="2" fill="#c0c0c0"/>
<rect x="383" y="702" width="1" height="1" fill="#c0c0c0"/>
<rect x="391" y="702" width="1" height="1" fill="#c0c0c0"/>
<rect x="399" y="701" width="1" height="2" fill="#c0c0c0"/>
<rect x="407" y="700" width="1" height="3" fill="#c0c0c0"/>
<rect x="415" y="699" width="1" height="4" fill="#c0c0c0"/>
<rect x="423" y="697" width="1" height="6" fill="#c0c0c0"/>
<rect x="431" y="696" width="1" height="7" fill="#c0c0c0"/>
<rect x="439" y="695" width="1" height="8" fill="#c0c0c0"/>
<rect x="447" y="694" width="1" height="9" fill="#c0c0c0"/>
<rect x="455" y="693" width="1" height="10" fill="#c0c0c0"/>
<rect x="463" y="692" width="1" height="11" fill="#c0c0c0"/>
<rect x="471" y="691" width="1" height="12" fill="#c0c0c0"/>
<rect x="479" y="691" width="1" height="12" fill="#c0c0c0"/>
<rect x="487" y="690" width="1" height="13" fill="#c0c0c0"/>
<rect x="495" y="690" width="1" height="13" fill="#c0c0c0"/>
<rect x="503" y="690" width="1" height="13" fill="#c0c0c0"/>
<rect x="511" y="691" width="1" height="12" fill="#c0c0c0"/>
<rect x="519" y="691" width="1" height="12" fill="#c0c0c0"/>
<rect x="527" y="692" width="1" height="11" fill="#c0c0c0"/>
<rect x="535" y="693" width="1" height="10" fill="#c0c0c0"/>
<rect x="543" y="694" width="1" height="9" fill="#c0c0c0"/>
<rect x="551" y="695" width="1" height="8" fill="#c0c0c0"/>
<rect x="559" y="695" width="1" height="8" fill="#c0c0c0"/>
<rect x="567" y="696" width="1" height="7" fill="#c0c0c0"/>
<rect x="575" y="697" width="1" height="6" fill="#c0c0c0"/>
<rect x="583" y="698" width="1" height="5" fill="#c0c0c0"/>
<rect x="591" y="699" width="1" height="4" fill="#c0c0c0"/>
<rect x="599" y="699" width="1" height="4" fill="#c0c0c0"/>
<rect x="607" y="698" width="1" height="5" fill="#c0c0c0"/>
<rect x="615" y="698" width="1" height="5" fill="#c0c0c0"/>
<rect x="623" y="696" width="1" height="7" fill="#c0c0c0"/>
<rect x="631" y="694" width="1" height="9" fill="#c0c0c0"/>
<rect x="639" y="693" width="1" height="10" fill="#c0c0c0"/>
<rect x="647" y="692" width="1" height="11" fill="#c0c0c0"/>
<rect x="655" y="693" width="1" height="10" fill="#c0c0c0"/>
<rect x="663" y="692" width="1" height="11" fill="#c0c0c0"/>
<rect x="671" y="692" width="1" height="11" fill="#c0c0c0"/>
<rect x="679" y="691" width="1" height="12" fill="#c0c0c0"/>
<rect x="687" y="692" width="1" height="11" fill="#c0c0c0"/>
<rect x="695" y="689" width="1" height="14" fill="#c0c0c0"/>
<rect x="703" y="683" width="1" height="20" fill="#c0c0c0"/>
<rect x="711" y="679" width="1" height="24" fill="#c0c0c0"/>
<rect x="719" y="675" width="1" height="28" fill="#c0c0c0"/>
<rect x="727" y="669" width="1" height="34" fill="#c0c0c0"/>
<rect x="735" y="666" width="1" height="37" fill="#c0c0c0"/>
<rect x="743" y="663" width="1" height="40" fill="#c0c0c0"/>
<rect x="751" y="658" width="1" height="45" fill="#c0c0c0"/>
<rect x="759" y="648" width="1" height="55" fill="#c0c0c0"/>
<rect x="767" y="642" width="1" height="61" fill="#c0c0c0"/>
<rect x="775" y="640" width="1" height="63" fill="#c0c0c0"/>
<rect x="783" y="638" width="1" height="65" fill="#c0c0c0"/>
<rect x="791" y="635" width="1" height="68" fill="#c0c0c0"/>
<rect x="799" y="635" width="1" height="68" fill="#c0c0c0"/>
<rect x="807" y="638" width="1" height="65" fill="#c0c0c0"/>
<rect x="815" y="646" width="1" height="57" fill="#c0c0c0"/>
<rect x="823" y="652" width="1" height="51" fill="#c0c0c0"/>
<rect x="831" y="660" width="1" height="43" fill="#c0c0c0"/>
<rect x="839" y="663" width="1" height="40" fill="#c0c0c0"/>
<rect x="847" y="667" width="1" height="36" fill="#c0c0c0"/>
<rect x="855" y="668" width="1" height="35" fill="#c0c0c0"/>
<rect x="863" y="671" width="1" height="32" fill="#c0c0c0"/>
<rect x="871" y="674" width="1" height="29" fill="#c0c0c0"/>
<rect x="879" y="676" width="1" height="27" fill="#c0c0c0"/>
<rect x="887" y="678" width="1" height="25" fill="#c0c0c0"/>
<rect x="895" y="683" width="1" height="20" fill="#c0c0c0"/>
<rect x="903" y="687" width="1" height="16" fill="#c0c0c0"/>
<rect x="911" y="690" width="1" height="13" fill="#c0c0c0"/>
<rect x="919" y="693" width="1" height="10" fill="#c0c0c0"/>
<rect x="927" y="696" width="1" height="7" fill="#c0c0c0"/>
<rect x="935" y="698" width="1" height="5" fill="#c0c0c0"/>
<rect x="943" y="700" width="1" height="3" fill="#c0c0c0"/>
<rect x="951" y="699" width="1" height="4" fill="#c0c0c0"/>
<rect x="959" y="697" width="1" height="6" fill="#c0c0c0"/>
<rect x="967" y="698" width="1" height="5" fill="#c0c0c0"/>
<rect x="975" y="699" width="1" height="4" fill="#c0c0c0"/>
<rect x="983" y="699" width="1" height="4" fill="#c0c0c0"/>
<rect x="991" y="697" width="1" height="6" fill="#c0c0c0"/>
<rect x="999" y="695" width="1" height="8" fill="#c0c0c0"/>
<rect x="1007" y="697" width="1" height="6" fill="#c0c0c0"/>
<rect x="1015" y="696" width="1" height="7" fill="#c0c0c0"/>
<rect x="1023" y="697" width="1" height="6" fill="#c0c0c0"/>
<rect x="1031" y="698" width="1" height="5" fill="#c0c0c0"/>
<rect x="1039" y="700" width="1" height="3" fill="#c0c0c0"/>
<rect x="1047" y="702" width="1" height="1" fill="#c0c0c0"/>
<rect x="1055" y="702" width="1" height="1" fill="#c0c0c0"/>
<rect x="1063" y="702" width="1" height="1" fill="#c0c0c0"/>
<rect x="1071" y="702" width="1" height="1" fill="#c0c0c0"/>
<rect x="1079" y="701" width="1" height="2" fill="#c0c0c0"/>
<rect x="1087" y="702" width="1" height="1" fill="#c0c0c0"/>
<rect x="1095" y="701" width="1" height="2" fill="#c0c0c0"/>
<rect x="1103" y="702" width="1" height="1" fill="#c0c0c0"/>
<rect x="1111" y="702" width="1" height="1" fill="#c0c0c0"/>
<rect x="1119" y="702" width="1" height="2" fill="#c0c0c0"/>
<rect x="1127" y="702" width="1" height="2" fill="#c0c0c0"/>
<rect x="1135" y="702" width="1" height="2" fill="#c0c0c0"/>
<rect x="1143" y="702" width="1" height="1" fill="#c0c0c0"/>
<rect x="1151" y="702" width="1" height="1" fill="#c0c0c0"/>
<rect x="1159" y="702" width="1" height="1" fill="#c0c0c0"/>
<rect x="1167" y="702" width="1" height="1" fill="#c0c0c0"/>
<rect x="1175" y="702" width="1" height="2" fill="#c0c0c0"/>
<rect x="1183" y="702" width="1" height="2" fill="#c0c0c0"/>
<rect x="1191" y="702" width="1" height="3" fill="#c0c0c0"/>
<rect x="1199" y="702" width="1" height="3" fill="#c0c0c0"/>
<rect x="1207" y="702" width="1" height="5" fill="#c0c0c0"/>
<path d="M819 640h1v1h-1zM823 640h2v1h-2zM813 641h1v1h-1zM817 641h2v1h-2zM825 641h1v1h-1zM811 642h2v1h-2zM829 642h3v1h-3zM806 643h2v1h-2zM835 643h2v1h-2zM805 644h1v1h-1zM837 644h1v1h-1zM841 645h2v1h-2zM800 646h2v1h-2zM843 646h1v1h-1zM799 647h1v1h-1zM847 647h2v1h-2zM795 648h1v1h-1zM849 648h1v1h-1zM793 649h2v1h-2zM853 649h1v1h-1zM854 650h2v1h-2zM789 651h1v1h-1zM787 652h2v1h-2zM859 653h2v1h-2zM861 654h1v1h-1zM782 655h2v1h-2zM781 656h1v1h-1zM865 656h1v1h-1zM866 657h2v1h-2zM776 658h2v1h-2zM775 659h1v1h-1zM871 659h1v1h-1zM872 660h2v1h-2zM771 662h1v1h-1zM877 662h1v1h-1zM769 663h2v1h-2zM878 663h2v1h-2zM883 665h3v1h-3zM765 666h1v1h-1zM763 667h2v1h-2zM889 667h1v1h-1zM890 668h2v1h-2zM758 670h2v1h-2zM895 670h2v1h-2zM757 671h1v1h-1zM897 671h1v1h-1zM901 672h1v1h-1zM752 673h2v1h-2zM902 673h2v1h-2zM751 674h1v1h-1zM907 675h3v1h-3zM746 676h2v1h-2zM745 677h1v1h-1zM913 677h2v1h-2zM915 678h1v1h-1zM739 679h3v1h-3zM919 679h2v1h-2zM921 680h1v1h-1zM734 681h2v1h-2zM925 681h1v1h-1zM733 682h1v1h-1zM926 682h2v1h-2zM728 684h2v1h-2zM931 684h3v1h-3zM723 685h1v1h-1zM727 685h1v1h-1zM717 686h1v1h-1zM721 686h2v1h-2zM937 686h2v1h-2zM715 687h2v1h-2zM939 687h1v1h-1zM709 688h3v1h-3zM943 688h2v1h-2zM705 689h1v1h-1zM945 689h1v1h-1zM507 690h1v1h-1zM511 690h3v1h-3zM517 690h3v1h-3zM523 690h3v1h-3zM529 690h3v1h-3zM535 690h3v1h-3zM541 690h3v1h-3zM699 690h1v1h-1zM703 690h2v1h-2zM949 690h1v1h-1zM499 691h3v1h-3zM505 691h2v1h-2zM547 691h3v1h-3zM553 691h3v1h-3zM559 691h3v1h-3zM691 691h3v1h-3zM697 691h2v1h-2zM950 691h2v1h-2zM493 692h3v1h-3zM565 692h3v1h-3zM685 692h3v1h-3zM955 692h3v1h-3zM475 693h3v1h-3zM481 693h3v1h-3zM487 693h3v1h-3zM571 693h3v1h-3zM577 693h2v1h-2zM667 693h3v1h-3zM673 693h3v1h-3zM679 693h3v1h-3zM961 693h3v1h-3zM469 694h3v1h-3zM579 694h1v1h-1zM583 694h3v1h-3zM661 694h3v1h-3zM967 694h2v1h-2zM7 695h3v1h-3zM13 695h3v1h-3zM19 695h3v1h-3zM25 695h3v1h-3zM31 695h3v1h-3zM37 695h3v1h-3zM463 695h3v1h-3zM589 695h3v1h-3zM595 695h3v1h-3zM601 695h2v1h-2zM637 695h3v1h-3zM643 695h3v1h-3zM649 695h3v1h-3zM655 695h3v1h-3zM969 695h1v1h-1zM43 696h3v1h-3zM49 696h3v1h-3zM55 696h3v1h-3zM457 696h3v1h-3zM603 696h1v1h-1zM607 696h3v1h-3zM613 696h3v1h-3zM619 696h3v1h-3zM625 696h3v1h-3zM631 696h3v1h-3zM973 696h3v1h-3zM1011 696h1v1h-1zM1015 696h3v1h-3zM1021 696h3v1h-3zM1027 696h3v1h-3zM1033 696h3v1h-3zM1039 696h3v1h-3zM61 697h3v1h-3zM67 697h3v1h-3zM73 697h2v1h-2zM451 697h3v1h-3zM979 697h3v1h-3zM985 697h3v1h-3zM991 697h3v1h-3zM997 697h3v1h-3zM1003 697h3v1h-3zM1009 697h2v1h-2zM1045 697h3v1h-3zM1051 697h3v1h-3zM1057 697h2v1h-2zM75 698h1v1h-1zM79 698h3v1h-3zM85 698h3v1h-3zM445 698h3v1h-3zM1059 698h1v1h-1zM1063 698h3v1h-3zM91 699h3v1h-3zM97 699h2v1h-2zM435 699h1v1h-1zM439 699h3v1h-3zM1069 699h3v1h-3zM1075 699h3v1h-3zM1081 699h2v1h-2zM99 700h1v1h-1zM103 700h3v1h-3zM427 700h3v1h-3zM433 700h2v1h-2zM1083 700h1v1h-1zM1087 700h3v1h-3zM1093 700h3v1h-3zM109 701h3v1h-3zM115 701h3v1h-3zM121 701h2v1h-2zM421 701h3v1h-3zM1099 701h3v1h-3zM1105 701h3v1h-3zM1111 701h3v1h-3zM123 702h1v1h-1zM127 702h3v1h-3zM411 702h1v1h-1zM415 702h3v1h-3zM1117 702h3v1h-3zM1123 702h3v1h-3zM1129 702h3v1h-3zM1135 702h3v1h-3zM1141 702h3v1h-3zM1147 702h3v1h-3zM1153 702h3v1h-3zM1159 702h3v1h-3zM1165 702h3v1h-3zM1171 702h3v1h-3zM1177 702h3v1h-3zM1183 702h3v1h-3zM133 703h3v1h-3zM403 703h3v1h-3zM409 703h2v1h-2zM1189 703h3v1h-3zM1195 703h3v1h-3zM1201 703h3v1h-3zM139 704h3v1h-3zM145 704h2v1h-2zM397 704h3v1h-3zM147 705h1v1h-1zM151 705h3v1h-3zM157 705h3v1h-3zM387 705h1v1h-1zM391 705h3v1h-3zM163 706h3v1h-3zM169 706h3v1h-3zM175 706h3v1h-3zM379 706h3v1h-3zM385 706h2v1h-2zM181 707h3v1h-3zM187 707h3v1h-3zM193 707h3v1h-3zM199 707h3v1h-3zM205 707h3v1h-3zM363 707h1v1h-1zM367 707h3v1h-3zM373 707h3v1h-3zM211 708h3v1h-3zM217 708h3v1h-3zM223 708h3v1h-3zM355 708h3v1h-3zM361 708h2v1h-2zM229 709h3v1h-3zM339 709h1v1h-1zM343 709h3v1h-3zM349 709h3v1h-3zM235 710h3v1h-3zM241 710h2v1h-2zM331 710h3v1h-3zM337 710h2v1h-2zM243 711h1v1h-1zM247 711h3v1h-3zM325 711h3v1h-3zM253 712h3v1h-3zM259 712h3v1h-3zM265 712h2v1h-2zM315 712h1v1h-1zM319 712h3v1h-3zM267 713h1v1h-1zM271 713h3v1h-3zM301 713h3v1h-3zM307 713h3v1h-3zM313 713h2v1h-2zM277 714h3v1h-3zM283 714h3v1h-3zM289 714h3v1h-3zM295 714h3v1h-3z" fill="#ff0000" shape-rendering="crispEdges"/>
</g>
<rect x="1523" y="630" width="1" height="1" fill="#000"/>
<rect x="1523" y="702" width="1" height="1" fill="#000"/>
<rect x="1523" y="719" width="1" height="1" fill="#000"/>
<g font-family="'Liberation Sans', sans-serif" style="font-kerning:none">
<text x="10.73" y="641" font-size="10.3" textLength="154.57" lengthAdjust="spacingAndGlyphs" fill="#000" stroke="#000" stroke-width="0.2">MACD(12,26,9) -0.002258 -0.000648</text>
<text x="1525.95" y="639" font-size="10.3" textLength="37.85" lengthAdjust="spacingAndGlyphs" fill="#000" stroke="#000" stroke-width="0.2">0.032493</text>
<text x="1525.94" y="705.5" font-size="10.3" textLength="18.13" lengthAdjust="spacingAndGlyphs" fill="#000" stroke="#000" stroke-width="0.2">0.00</text>
<text x="1525.59" y="716.5" font-size="10.3" textLength="41.75" lengthAdjust="spacingAndGlyphs" fill="#000" stroke="#000" stroke-width="0.2">-0.008086</text>
</g>
<g font-family="'Liberation Sans', sans-serif" style="font-kerning:none">
<rect x="7" y="721" width="1" height="3" fill="#000"/>
<text x="5.62" y="733" font-size="10.3" textLength="54.13" lengthAdjust="spacingAndGlyphs" fill="#000" stroke="#000" stroke-width="0.2">29 Nov 2019</text>
<rect x="71" y="721" width="1" height="3" fill="#000"/>
<text x="69.56" y="733" font-size="10.3" textLength="47.47" lengthAdjust="spacingAndGlyphs" fill="#000" stroke="#000" stroke-width="0.2">9 Dec 2019</text>
<rect x="135" y="721" width="1" height="3" fill="#000"/>
<text x="133.6" y="733" font-size="10.3" textLength="52.34" lengthAdjust="spacingAndGlyphs" fill="#000" stroke="#000" stroke-width="0.2">18 Dec 2019</text>
<rect x="199" y="721" width="1" height="3" fill="#000"/>
<text x="197.84" y="733" font-size="10.3" textLength="52.1" lengthAdjust="spacingAndGlyphs" fill="#000" stroke="#000" stroke-width="0.2">27 Dec 2019</text>
<rect x="263" y="721" width="1" height="3" fill="#000"/>
<text x="261.54" y="733" font-size="10.3" textLength="45.22" lengthAdjust="spacingAndGlyphs" fill="#000" stroke="#000" stroke-width="0.2">6 Jan 2020</text>
<rect x="327" y="721" width="1" height="3" fill="#000"/>
<text x="325.51" y="733" font-size="10.3" textLength="50.15" lengthAdjust="spacingAndGlyphs" fill="#000" stroke="#000" stroke-width="0.2">15 Jan 2020</text>
<rect x="391" y="721" width="1" height="3" fill="#000"/>
<text x="389.54" y="733" font-size="10.3" textLength="49.91" lengthAdjust="spacingAndGlyphs" fill="#000" stroke="#000" stroke-width="0.2">24 Jan 2020</text>
<rect x="455" y="721" width="1" height="3" fill="#000"/>
<text x="453.64" y="733" font-size="10.3" textLength="47.52" lengthAdjust="spacingAndGlyphs" fill="#000" stroke="#000" stroke-width="0.2">3 Feb 2020</text>
<rect x="519" y="721" width="1" height="3" fill="#000"/>
<text x="518" y="733" font-size="10.3" textLength="51.56" lengthAdjust="spacingAndGlyphs" fill="#000" stroke="#000" stroke-width="0.2">12 Feb 2020</text>
<rect x="583" y="721" width="1" height="3" fill="#000"/>
<text x="581.73" y="733" font-size="10.3" textLength="52.23" lengthAdjust="spacingAndGlyphs" fill="#000" stroke="#000" stroke-width="0.2">21 Feb 2020</text>
<rect x="647" y="721" width="1" height="3" fill="#000"/>
<text x="646.24" y="733" font-size="10.3" textLength="46.42" lengthAdjust="spacingAndGlyphs" fill="#000" stroke="#000" stroke-width="0.2">2 Mar 2020</text>
<rect x="711" y="721" width="1" height="3" fill="#000"/>
<text x="709.69" y="733" font-size="10.3" textLength="52.37" lengthAdjust="spacingAndGlyphs" fill="#000" stroke="#000" stroke-width="0.2">11 Mar 2020</text>
<rect x="775" y="721" width="1" height="3" fill="#000"/>
<text x="773.83" y="733" font-size="10.3" textLength="52.13" lengthAdjust="spacingAndGlyphs" fill="#000" stroke="#000" stroke-width="0.2">20 Mar 2020</text>
<rect x="839" y="721" width="1" height="3" fill="#000"/>
<text x="837.75" y="733" font-size="10.3" textLength="51.91" lengthAdjust="spacingAndGlyphs" fill="#000" stroke="#000" stroke-width="0.2">30 Mar 2020</text>
<rect x="903" y="721" width="1" height="3" fill="#000"/>
<text x="901.79" y="733" font-size="10.3" textLength="45.87" lengthAdjust="spacingAndGlyphs" fill="#000" stroke="#000" stroke-width="0.2">8 Apr 2020</text>
<rect x="967" y="721" width="1" height="3" fill="#000"/>
<text x="966.08" y="733" font-size="10.3" textLength="51.18" lengthAdjust="spacingAndGlyphs" fill="#000" stroke="#000" stroke-width="0.2">17 Apr 2020</text>
<rect x="1031" y="721" width="1" height="3" fill="#000"/>
<text x="1029.62" y="733" font-size="10.3" textLength="51.55" lengthAdjust="spacingAndGlyphs" fill="#000" stroke="#000" stroke-width="0.2">27 Apr 2020</text>
<rect x="1095" y="721" width="1" height="3" fill="#000"/>
<text x="1093.3" y="733" font-size="10.3" textLength="50.98" lengthAdjust="spacingAndGlyphs" fill="#000" stroke="#000" stroke-width="0.2">6 May 2020</text>
<rect x="1159" y="721" width="1" height="3" fill="#000"/>
<text x="1157.47" y="733" font-size="10.3" textLength="55.2" lengthAdjust="spacingAndGlyphs" fill="#000" stroke="#000" stroke-width="0.2">15 May 2020</text>
</g>
<rect x="2" y="743" width="1563" height="1" fill="#000"/>
<rect x="2" y="744" width="1" height="18" fill="#a0a0a0"/>
<rect x="3" y="744" width="1" height="18" fill="#696969"/>
<rect x="316" y="743" width="104" height="19" fill="#000"/>
<rect x="317" y="743" width="102" height="18" fill="#fff"/>
<rect x="112" y="746" width="1" height="14" fill="#6d6d6d"/>
<rect x="212" y="746" width="1" height="14" fill="#6d6d6d"/>
<rect x="525" y="746" width="1" height="14" fill="#6d6d6d"/>
<rect x="628" y="746" width="1" height="14" fill="#6d6d6d"/>
<rect x="732" y="746" width="1" height="14" fill="#6d6d6d"/>
<rect x="824" y="746" width="1" height="14" fill="#6d6d6d"/>
<rect x="896" y="746" width="1" height="14" fill="#6d6d6d"/>
<rect x="976" y="746" width="1" height="14" fill="#6d6d6d"/>
<rect x="1056" y="746" width="1" height="14" fill="#6d6d6d"/>
<rect x="1136" y="746" width="1" height="14" fill="#6d6d6d"/>
<rect x="1212" y="746" width="1" height="14" fill="#6d6d6d"/>
<rect x="1296" y="746" width="1" height="14" fill="#6d6d6d"/>
<rect x="1380" y="746" width="1" height="14" fill="#6d6d6d"/>
<rect x="1460" y="746" width="1" height="14" fill="#6d6d6d"/>
<g font-family="'Liberation Sans', sans-serif" style="font-kerning:none">
<text x="19.42" y="757.6" font-size="12.5" textLength="80.4" lengthAdjust="spacingAndGlyphs" fill="#555" stroke="#555" stroke-width="0">EURUSD,Daily</text>
<text x="121.38" y="757.6" font-size="12.5" textLength="79.44" lengthAdjust="spacingAndGlyphs" fill="#555" stroke="#555" stroke-width="0">USDCHF,Daily</text>
<text x="223.28" y="757.6" font-size="12.5" textLength="81.45" lengthAdjust="spacingAndGlyphs" fill="#555" stroke="#555" stroke-width="0">AUDUSD,Daily</text>
<text x="326.87" y="757.6" font-size="12.5" textLength="80.85" lengthAdjust="spacingAndGlyphs" fill="#000" stroke="#000" stroke-width="0">USDCAD,Daily</text>
<text x="429.35" y="757.6" font-size="12.5" textLength="83.88" lengthAdjust="spacingAndGlyphs" fill="#555" stroke="#555" stroke-width="0">USDCNH,Daily</text>
<text x="535.72" y="757.6" font-size="12.5" textLength="80.1" lengthAdjust="spacingAndGlyphs" fill="#555" stroke="#555" stroke-width="0">EURUSD,Daily</text>
<text x="639.4" y="757.6" font-size="12.5" textLength="80.32" lengthAdjust="spacingAndGlyphs" fill="#555" stroke="#555" stroke-width="0">GBPUSD,Daily</text>
<text x="743.03" y="757.6" font-size="12.5" textLength="69.13" lengthAdjust="spacingAndGlyphs" fill="#555" stroke="#555" stroke-width="0">XAUUSD,H4</text>
<text x="834.27" y="757.6" font-size="12.5" textLength="50.74" lengthAdjust="spacingAndGlyphs" fill="#555" stroke="#555" stroke-width="0">HK50,H1</text>
<text x="906.54" y="757.6" font-size="12.5" textLength="57.16" lengthAdjust="spacingAndGlyphs" fill="#555" stroke="#555" stroke-width="0">UK100,H1</text>
<text x="986.34" y="757.6" font-size="12.5" textLength="57.16" lengthAdjust="spacingAndGlyphs" fill="#555" stroke="#555" stroke-width="0">UK100,H1</text>
<text x="1067" y="757.6" font-size="12.5" textLength="57.38" lengthAdjust="spacingAndGlyphs" fill="#555" stroke="#555" stroke-width="0">GER30,H1</text>
<text x="1145.32" y="757.6" font-size="12.5" textLength="55.76" lengthAdjust="spacingAndGlyphs" fill="#555" stroke="#555" stroke-width="0">FRA40,H1</text>
<text x="1221.64" y="757.6" font-size="12.5" textLength="63.38" lengthAdjust="spacingAndGlyphs" fill="#555" stroke="#555" stroke-width="0">USOil,Daily</text>
<text x="1305.4" y="757.6" font-size="12.5" textLength="63.86" lengthAdjust="spacingAndGlyphs" fill="#555" stroke="#555" stroke-width="0">USDJPY,H1</text>
<text x="1389.59" y="757.6" font-size="12.5" textLength="59.53" lengthAdjust="spacingAndGlyphs" fill="#555" stroke="#555" stroke-width="0">DJ30,Daily</text>
</g>
<polygon points="1538,752 1541,749 1541,755" fill="#a0a0a0"/>
<polygon points="1560,752 1557,749 1557,755" fill="#a0a0a0"/></svg>
</body></html>
